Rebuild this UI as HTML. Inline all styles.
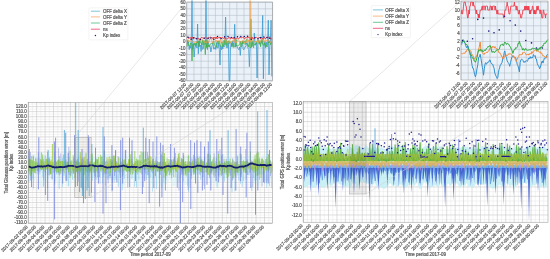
<!DOCTYPE html>
<html><head><meta charset="utf-8"><style>
html,body{margin:0;padding:0;background:#fff;width:550px;height:259px;overflow:hidden}
svg{display:block}
.t{font-family:"Liberation Sans",sans-serif;font-size:44.5px;fill:#404040;stroke:#666;stroke-width:2px}
.gt{filter:grayscale(1)}
</style></head><body>
<svg width="550" height="259" viewBox="0 0 550 259">
<rect width="550" height="259" fill="#fff"/>
<rect x="28.2" y="102.3" width="244.3" height="121" fill="#ffffff"/>
<path d="M32.42 102.3V223.3M40.86 102.3V223.3M49.3 102.3V223.3M57.74 102.3V223.3M66.18 102.3V223.3M74.62 102.3V223.3M83.06 102.3V223.3M91.5 102.3V223.3M99.94 102.3V223.3M108.38 102.3V223.3M116.82 102.3V223.3M125.26 102.3V223.3M133.7 102.3V223.3M142.14 102.3V223.3M150.58 102.3V223.3M159.02 102.3V223.3M167.46 102.3V223.3M175.9 102.3V223.3M184.34 102.3V223.3M192.78 102.3V223.3M201.22 102.3V223.3M209.66 102.3V223.3M218.1 102.3V223.3M226.54 102.3V223.3M234.98 102.3V223.3M243.42 102.3V223.3M251.86 102.3V223.3M260.3 102.3V223.3M268.74 102.3V223.3M28.2 104.07H272.5M28.2 109.12H272.5M28.2 114.17H272.5M28.2 119.22H272.5M28.2 124.27H272.5M28.2 129.32H272.5M28.2 134.38H272.5M28.2 139.43H272.5M28.2 144.47H272.5M28.2 149.52H272.5M28.2 154.57H272.5M28.2 159.62H272.5M28.2 164.68H272.5M28.2 169.72H272.5M28.2 174.77H272.5M28.2 179.82H272.5M28.2 184.88H272.5M28.2 189.93H272.5M28.2 194.97H272.5M28.2 200.02H272.5M28.2 205.07H272.5M28.2 210.12H272.5M28.2 215.18H272.5M28.2 220.22H272.5" stroke="#e6e6e6" stroke-width="0.5" fill="none"/>
<path d="M28.2 102.3V223.3M36.64 102.3V223.3M45.08 102.3V223.3M53.52 102.3V223.3M61.96 102.3V223.3M70.4 102.3V223.3M78.84 102.3V223.3M87.28 102.3V223.3M95.72 102.3V223.3M104.16 102.3V223.3M112.6 102.3V223.3M121.04 102.3V223.3M129.48 102.3V223.3M137.92 102.3V223.3M146.36 102.3V223.3M154.8 102.3V223.3M163.24 102.3V223.3M171.68 102.3V223.3M180.12 102.3V223.3M188.56 102.3V223.3M197 102.3V223.3M205.44 102.3V223.3M213.88 102.3V223.3M222.32 102.3V223.3M230.76 102.3V223.3M239.2 102.3V223.3M247.64 102.3V223.3M256.08 102.3V223.3M264.52 102.3V223.3M28.2 106.6H272.5M28.2 111.65H272.5M28.2 116.7H272.5M28.2 121.75H272.5M28.2 126.8H272.5M28.2 131.85H272.5M28.2 136.9H272.5M28.2 141.95H272.5M28.2 147H272.5M28.2 152.05H272.5M28.2 157.1H272.5M28.2 162.15H272.5M28.2 167.2H272.5M28.2 172.25H272.5M28.2 177.3H272.5M28.2 182.35H272.5M28.2 187.4H272.5M28.2 192.45H272.5M28.2 197.5H272.5M28.2 202.55H272.5M28.2 207.6H272.5M28.2 212.65H272.5M28.2 217.7H272.5M28.2 222.75H272.5" stroke="#c8c8c8" stroke-width="0.6" fill="none"/>
<rect x="303.2" y="101.6" width="244.8" height="120.6" fill="#ffffff"/>
<path d="M307.42 101.6V222.2M315.86 101.6V222.2M324.3 101.6V222.2M332.74 101.6V222.2M341.18 101.6V222.2M349.62 101.6V222.2M358.06 101.6V222.2M366.5 101.6V222.2M374.94 101.6V222.2M383.38 101.6V222.2M391.82 101.6V222.2M400.26 101.6V222.2M408.7 101.6V222.2M417.14 101.6V222.2M425.58 101.6V222.2M434.02 101.6V222.2M442.46 101.6V222.2M450.9 101.6V222.2M459.34 101.6V222.2M467.78 101.6V222.2M476.22 101.6V222.2M484.66 101.6V222.2M493.1 101.6V222.2M501.54 101.6V222.2M509.98 101.6V222.2M518.42 101.6V222.2M526.86 101.6V222.2M535.3 101.6V222.2M543.74 101.6V222.2M303.2 107.57H548M303.2 116.91H548M303.2 126.25H548M303.2 135.59H548M303.2 144.93H548M303.2 154.27H548M303.2 163.61H548M303.2 172.95H548M303.2 182.29H548M303.2 191.63H548M303.2 200.97H548M303.2 210.31H548M303.2 219.65H548" stroke="#e6e6e6" stroke-width="0.5" fill="none"/>
<path d="M303.2 101.6V222.2M311.64 101.6V222.2M320.08 101.6V222.2M328.52 101.6V222.2M336.96 101.6V222.2M345.4 101.6V222.2M353.84 101.6V222.2M362.28 101.6V222.2M370.72 101.6V222.2M379.16 101.6V222.2M387.6 101.6V222.2M396.04 101.6V222.2M404.48 101.6V222.2M412.92 101.6V222.2M421.36 101.6V222.2M429.8 101.6V222.2M438.24 101.6V222.2M446.68 101.6V222.2M455.12 101.6V222.2M463.56 101.6V222.2M472 101.6V222.2M480.44 101.6V222.2M488.88 101.6V222.2M497.32 101.6V222.2M505.76 101.6V222.2M514.2 101.6V222.2M522.64 101.6V222.2M531.08 101.6V222.2M539.52 101.6V222.2M303.2 102.9H548M303.2 112.24H548M303.2 121.58H548M303.2 130.92H548M303.2 140.26H548M303.2 149.6H548M303.2 158.94H548M303.2 168.28H548M303.2 177.62H548M303.2 186.96H548M303.2 196.3H548M303.2 205.64H548M303.2 214.98H548" stroke="#c8c8c8" stroke-width="0.6" fill="none"/>
<path d="M28.6 155.6 L31.9 155.7 L34.6 153.5 L37.4 158.3 L39.5 152.7 L42.4 152.3 L45.8 157.2 L47.6 152.1 L49.2 153.5 L50.8 155.7 L54 156.2 L56.5 157.3 L58.5 160 L61.7 157.7 L63.7 154.3 L66.7 155.2 L69 159.7 L70.5 153.7 L72.9 159.8 L74.6 157 L76.6 152.7 L80 158.1 L82 152.8 L85.1 153.4 L87.5 153.5 L89.3 157.1 L91.6 153.7 L95.1 158.4 L98.3 153.7 L101.5 157.1 L105 153.7 L108.1 154.6 L109.7 152.7 L111.7 156.8 L114.1 159.7 L116.8 158.9 L118.6 159.3 L120.6 153.5 L123.9 153.6 L127.2 156.8 L128.9 152.3 L130.9 157.6 L134 156.8 L135.9 157.8 L137.9 156.5 L140.6 154.2 L142.5 152.1 L144.9 152.5 L147.1 156.6 L149.3 159.1 L152.2 157.5 L153.9 152.3 L157.3 157.6 L158.8 157.1 L161.8 154.6 L163.4 156.4 L166.7 157.9 L169.8 159.3 L172.7 159.2 L175 158.3 L177.6 157 L180.3 156.9 L183.1 159.9 L186 155.1 L188.7 155.5 L190.4 158 L193.1 155.8 L196 156 L199.3 154 L201.4 157.4 L203.3 159.2 L205.6 159.1 L208.5 153.6 L211.6 159.3 L213.9 156.7 L215.6 156 L218.8 157.7 L220.9 153.4 L222.9 153.7 L225.7 156 L228.9 159.9 L230.5 152.3 L232.1 157.7 L234.2 158.3 L236 155.6 L239.1 153.9 L240.7 157 L243.5 157.2 L246.9 157.5 L249.4 153.4 L251.8 157.7 L253.9 154.8 L256.4 156.9 L258.7 158.3 L260.4 159.5 L262.1 155.6 L265.4 155 L268.7 158.4 L271.1 157.2 L271.1 176.9 L268.7 187.2 L265.4 182 L262.1 182.8 L260.4 184.1 L258.7 186.7 L256.4 184.6 L253.9 183.8 L251.8 176.5 L249.4 174.2 L246.9 176.8 L243.5 185.3 L240.7 180.3 L239.1 176 L236 174.3 L234.2 174.3 L232.1 182 L230.5 186.2 L228.9 180.3 L225.7 178.4 L222.9 179.8 L220.9 180.3 L218.8 187.3 L215.6 185.7 L213.9 178.4 L211.6 186.3 L208.5 180 L205.6 178.6 L203.3 183.2 L201.4 176.8 L199.3 174.2 L196 182.6 L193.1 177.2 L190.4 174.4 L188.7 185.7 L186 184.3 L183.1 186.3 L180.3 175.1 L177.6 179.4 L175 186.1 L172.7 186.2 L169.8 178.9 L166.7 183.9 L163.4 184.3 L161.8 188 L158.8 180.8 L157.3 187.5 L153.9 174.3 L152.2 182.2 L149.3 187.7 L147.1 175.8 L144.9 176.5 L142.5 177.8 L140.6 186.8 L137.9 185.9 L135.9 175 L134 178.1 L130.9 177.6 L128.9 187.5 L127.2 179.9 L123.9 187.3 L120.6 184.4 L118.6 185.4 L116.8 176.6 L114.1 180.8 L111.7 179.2 L109.7 182.2 L108.1 178.1 L105 177.6 L101.5 175.4 L98.3 179.5 L95.1 178.3 L91.6 177.8 L89.3 175.6 L87.5 184.2 L85.1 181.8 L82 174.8 L80 175.7 L76.6 178.7 L74.6 184.9 L72.9 179.6 L70.5 186.7 L69 185.9 L66.7 185.9 L63.7 175 L61.7 178.4 L58.5 187.9 L56.5 180.4 L54 183 L50.8 180.2 L49.2 177.4 L47.6 181.4 L45.8 182.6 L42.4 187.8 L39.5 185.3 L37.4 175.3 L34.6 181.2 L31.9 181.1 L28.6 181.8 Z" fill="#c8f0f6" fill-opacity="0.4"/>
<path d="M28.6 164.6V181.7M29.8 165.5V174.3M31.1 165.5V170.5M32.9 165.3V178.6M34.5 166.4V170.1M36 162.9V169.8M37.8 158.2V174.2M39.8 157.9V174.4M41.1 164.8V170.9M42.8 157.6V176.9M43.8 166.1V180.1M45.7 165.8V175.5M46.8 163.1V169.9M48.1 163.9V175M49.4 158.1V171.4M50.5 165.2V173.4M52 165V178.9M53.5 164.7V173.2M54.7 165.6V181.4M56.5 165.1V174.4M58 162.7V174.6M59.2 160.8V189M60.7 164.4V171.3M62.4 157.9V187M64 166.1V176M65.9 163.8V180.1M67.1 163.2V180.8M68.6 165.6V186.4M69.8 165.5V175.2M70.9 163.2V176.3M72.6 164.5V179.7M73.8 166.4V173.6M75 164.8V177.6M76.4 164.3V172.2M77.4 162.8V170.4M78.4 156.7V173M79.4 162.4V175.9M81.1 163.2V186.9M82.2 164.5V189.1M83.5 159.7V175.7M85.1 166.1V173.3M87 162.7V179.8M88.9 166.5V176.1M90.5 164.1V170.6M92.4 157.4V181M94.3 163.8V176M96 157.8V180.3M97.4 165.3V169.8M98.6 164.3V173.3M100 165.7V183.6M101.4 163.5V172.2M102.6 164.5V183.4M103.8 165.3V177M105.3 166.3V185.6M107.3 165.1V179.6M108.6 166.1V178.2M110.4 165.1V176.1M111.8 159.6V191.6M112.9 165.8V180.2M114.2 158.3V182.2M115.8 163.1V180M117.1 166.1V182.8M118.4 166.4V186.9M119.9 164.3V175.4M120.9 160.7V178M122.3 166V190.1M124.3 164.8V178.9M125.4 162.8V169.9M126.8 166.4V171.5M127.9 166.5V178.4M129.5 164.7V169.8M130.5 165.6V173.7M132 165.3V179.3M133.4 164.4V173.3M134.6 162.9V186.7M136.5 165.4V187.6M137.6 162.8V170.7M138.9 164.4V179.7M140.2 166.6V172.6M141.8 159.6V174.9M143.8 165.5V170.5M144.9 163.3V172.4M146.4 164.9V180M147.8 165.4V175.1M148.9 165.7V178.4M150.8 163.9V177.4M152.6 165.9V191.6M153.5 164.6V178.3M155.4 162.9V170.3M156.5 162.7V188.9M158.2 162.7V171M159.2 163.1V178.2M160.7 162.8V175M162 166.5V188.4M163.7 163.8V182.8M165.3 163.9V173.2M167.2 165.4V176.4M169 165.3V175.3M169.9 163.1V174.8M171.1 165.8V172.3M172.1 166.4V175.4M173.7 164.9V172.2M175.7 166.1V177.1M177.2 164V187.1M179.2 164.5V182.4M180.7 165.5V177.6M182.4 164V174.6M183.4 164.7V181.5M184.6 163.8V171M186.2 163.6V176.7M187.7 166.4V186.3M188.6 166.3V192M190.5 164.7V173.1M191.5 165.4V179.1M192.9 165V172.4M194.5 164.8V174.4M195.8 164.1V172.9M197.2 164.7V174.6M199.1 162.7V174M200.8 165.4V180M202.4 164.9V172.1M203.9 162.7V185.6M205.7 165.6V172M207.7 165.8V170.3M209.5 163.3V176.1M211.2 163.6V172.4M212.7 164.4V171.1M214 163.7V172.6M215.5 164.6V176.5M217.1 165.4V187.9M218.5 164.5V175.9M219.8 160.8V177.2M221.6 165.1V173.5M222.5 165.1V171.2M224.4 162.9V181.6M226.2 163.6V175M227.1 163.3V171.9M228.8 165.3V172M230 164.8V175.9M232 165.7V192.2M233.3 164.8V178.7M234.9 165.9V191.2M236.8 165.7V172.1M237.7 157.6V175.6M238.7 166.4V180.4M240.6 162.5V183.9M242.2 163.8V187.3M243.5 165.2V180.8M244.7 164.2V170.8M246.2 164.6V179.4M247.7 164V175.1M249.1 164.6V175.4M250.8 163V169.8M251.8 163.4V191M253.6 163.9V177.8M254.9 164.4V180.5M256.7 166.3V180.3M258.2 165.4V175.3M259.2 161.7V173.9M260.2 164.4V174.4M261.8 164.3V174.7M263.4 165.7V175.6M264.9 161.3V181.5M266.7 165.3V188.2M267.9 163.3V181M269.6 166V186.3M271.6 165.3V188.2" stroke="#72bce8" stroke-width="0.6" stroke-opacity="0.85" fill="none"/>
<path d="M28.6 151.4V171.7M30.4 152.2V180.5M33.3 155.5V188.4M35.8 157.7V173.6M38.3 152.2V171.7M39.8 164.4V171.6M41.5 160.5V170M43.7 159.2V186.7M45.2 155.5V172.3M47.6 159.4V188.2M49.2 157.3V175.6M50.7 164.3V173.4M52.2 163.8V179.4M54.6 151.7V184.6M56.8 161.9V168.9M58.6 147.8V173.3M60.8 153.4V174.3M63.4 154.5V170.9M66 159.7V170.1M68.8 146.8V174.5M70.7 160.4V175.8M73.6 157.6V173.8M75.2 161.8V169.7M76.7 160.2V171.2M78.4 161.5V181.7M80.9 163.3V170.2M82.9 157.6V190.5M85.3 164.1V170.5M87.8 158.6V172M89.9 162.4V172.3M91.5 159.1V170.2M93.2 164.4V170.1M95.5 159.9V177.1M97.6 158.8V173M99.6 163.8V177M101.3 164.2V169.6M104 150.2V174.4M106.3 160.5V174M108.1 159.2V183.3M110 160.4V178.4M112.3 159.8V183M114.5 159V176M116.6 161.2V182.2M118.1 156V172M120.7 161.5V171.5M122.5 164.5V178.5M125.3 150.2V170.3M127.7 164.2V187.5M129.2 164.3V172.4M131.9 151V172.4M134.8 163.1V169.2M137.7 160.3V174.4M140.4 164.3V169.7M143.3 151.5V187M145.9 162.2V174.2M148 155.7V175.2M150.5 162V170M152.8 163.7V173.4M155.5 160.3V176.4M157.9 162V171.5M159.9 162.1V175M162.6 161.9V170.6M164.2 159V171M165.8 163.6V180.2M168.4 163V171.4M170.1 162.6V170.8M171.6 160.1V178.3M173.1 159.1V168.7M175.4 153V171.4M177.4 158.1V187.9M179 156.6V190.5M181.3 158.3V174.7M183.4 159.2V169.9M185.5 161V174.1M188.2 156V190M190.1 161.5V187.5M192 158.7V168.6M193.5 154.7V174.8M196 161.7V170.2M197.8 156.1V170.2M200.1 164.6V175.3M201.8 158.8V170M204.5 156.3V189.2M207.4 153.7V170.5M209.9 159.2V172.3M211.9 161.4V174.3M214.2 153.3V177.7M216.3 158V168.8M218.3 151.1V175.3M220 149.2V170.4M222.6 154.1V174.8M224.5 161.4V172.4M226.3 158.9V173.4M229.2 163.4V170.2M230.8 162.5V175.3M232.6 158.3V180.6M234.4 161.7V173.4M235.9 162.9V177.5M237.4 161.7V171.8M239.3 164.5V171.3M241.3 154.3V177M243.5 164.5V171.5M245.7 149V173.1M247.7 159.3V174.9M250.5 159.5V172.3M252.8 160.9V187.1M255.2 160.4V169M257.2 151.4V169.8M259.4 159.5V179.7M262 158.4V186.5M264.5 164.2V183.3M266.5 163.9V182.8M268.3 153.9V171.9M270.4 160.4V176.1" stroke="#7484dc" stroke-width="0.6" stroke-opacity="0.85" fill="none"/>
<path d="M28.6 159.8V171.9M29.6 158.7V170.8M30.3 159.2V175.8M31.2 160.1V167.8M31.7 155.9V174.3M32.5 160.4V171.7M33.3 156.8V170.8M34.2 160.9V172.7M34.9 162.6V173M35.9 158.8V171M36.8 161.8V167.8M37.6 162.5V171M38.5 164.7V170.1M39.5 163.4V168.4M40.5 159.2V169.5M41.4 152.4V167.7M42 160.6V169.7M42.6 154.5V169.1M43.4 162.3V170.1M44 163.8V171.4M45 161.1V169M46 159.2V169.5M46.6 158.6V168.4M47.6 151.9V170.1M48.2 162.5V167.7M49.1 159.2V168.3M50 161.8V174.1M50.5 161.5V174.5M51.2 159.6V173.9M52.2 162.1V169.6M53 162.3V167.7M54 163.9V172M54.7 164V167.7M55.6 160.5V171.4M56.5 161.8V172.4M57.6 160.3V172.5M58.6 159.4V172.2M59.3 155.9V175.4M60.2 161V173.3M60.9 160.8V170.8M62 160.9V172.2M62.5 161.1V169.1M63.1 163.8V168.2M64.1 161.5V173.4M65.2 161V168.1M66.2 164.8V168.6M66.8 161.9V168M67.5 161.7V169.8M68.4 161.5V171.9M68.9 157.3V172.1M70 150.7V178.1M70.7 162V169.1M71.8 160.4V173.5M72.6 164.4V170.3M73.2 155.1V171.6M73.8 161.3V172.3M74.9 158.9V178.1M75.9 161V169.2M76.7 161.3V172.1M77.4 158.7V173.9M78 162.3V168.2M78.6 164.5V170.9M79.3 162V169.7M80.3 152.1V171.3M80.9 162.3V172.5M81.8 158.7V170.9M82.9 162.3V168.2M83.4 164.6V170.5M84.1 156.9V175.1M85.1 160.6V168.5M86 152.9V171M87.1 159.2V172.4M87.7 162.5V173M88.5 162.7V170M89.1 161.4V170.8M89.9 164V172.9M90.4 161.7V171M91.3 154.2V174M92.3 153.5V168.5M93.1 163.5V172.2M94.1 162.5V173.4M94.9 161.6V171.8M95.6 159.7V172.7M96.6 159.3V171.4M97.6 159.9V177.3M98.7 157V170.1M99.8 164.7V168.3M100.7 154.9V171.1M101.2 156.9V169M102.1 156.4V168.6M102.8 161.5V170.5M103.8 159.2V170.9M104.6 151V172.4M105.4 161.7V173.5M106.1 165V169.8M107 157.3V169.5M108 161.7V173.6M108.8 164.1V167.6M109.8 156.4V176M110.6 158.9V172.7M111.6 162.4V168.1M112.2 161.6V168.5M112.9 156.2V170.4M113.6 155.4V170.4M114.6 155.6V171.9M115.5 150.7V172.4M116.3 163.2V170.8M117 162.6V169.1M118 163V171M118.7 157.5V168.2M119.6 163.9V172.6M120.2 157.6V178.2M120.9 161.8V172.2M121.6 162.9V167.7M122.6 158.7V171.6M123.1 162.9V175.5M123.9 160V171.3M124.8 159.2V169.7M125.4 160.5V170.7M126.4 163.8V171.4M127 163.5V171.8M128 162.8V168.3M128.6 159.2V171M129.3 159.2V172.5M129.8 159.7V173M130.7 154.2V174.5M131.8 159V169.4M132.7 162.6V174.6M133.5 164.2V171M134.3 163.4V169.6M134.8 150.9V171.2M135.6 161V172.1M136.4 158.6V172.7M137.1 161.4V170.8M137.9 159.2V167.9M138.9 160.3V172.1M139.8 155V170.6M140.3 160.6V169M141.1 151.3V173.4M142.1 162.4V168.9M142.9 152.3V168.3M144 165.1V169.4M144.5 159.3V170M145.4 151.4V169.4M146.4 158.7V168.8M147.5 151.9V169.7M148.1 159.4V168.8M148.7 157.8V172M149.8 159.4V168.4M150.8 156.8V169.4M151.4 163.9V171.6M152.2 160.8V171.1M152.8 159.1V169.3M153.4 158.7V170.8M153.9 161.2V169.1M154.5 163.2V169.1M155.3 163.9V175.9M156.2 162.6V170.6M157.1 160.9V171.5M157.9 161.8V171.7M159 164V168.6M159.6 162.2V172.3M160.2 161.9V171.1M160.8 161.2V171M161.4 154.6V170.2M162 151.3V171M163 156.1V167.9M163.9 161.7V177.7M164.5 153.1V172.6M165 162.4V168.9M165.5 161.9V175.9M166.5 164.8V175.6M167.2 158.3V173.6M168.1 163.6V170.9M168.9 159V169.6M169.8 164.8V175.3M170.7 159.5V172.9M171.4 159.6V172.3M172.1 163.9V168.6M172.7 162.1V170.3M173.7 159.5V177.1M174.4 157.1V169.2M175.4 160.5V169.8M176.5 162.8V171.9M177 163V168.1M177.7 160.1V167.9M178.3 153.8V167.8M179.1 152.9V169.2M180 164.1V169.3M180.7 162.6V169M181.4 158.4V171.4M182.4 158.8V171.6M183.1 160.6V173.3M183.7 155.2V175.5M184.4 161.9V168.6M185.2 164V175.3M185.9 164.1V171.8M186.9 165V175.6M187.4 161.9V170.4M188 164.9V173M188.7 154.8V171.3M189.4 161.4V172.2M190.3 162.4V169.3M191.3 162.6V176.1M192 162.8V168.5M192.6 160.7V167.6M193.4 163.5V171.5M194.2 161.5V173.4M195 159.3V171.9M195.9 158.8V168.6M196.7 161.4V169.3M197.5 163.6V169.5M198.3 158.1V168.2M198.9 162.2V170.5M199.9 156.6V170.6M200.6 160.4V171.9M201.3 160.2V172.6M202.1 160.5V172.6M202.6 162.6V169M203.1 161.3V177M203.9 161V173.2M204.4 158.3V169.3M205.5 164.3V167.8M206.3 162.7V172.4M207 162.6V172.2M207.7 160.6V174.5M208.3 159V175.2M208.8 153.6V169.2M209.6 162.7V178.1M210.3 154.7V173.6M211.3 162V172.4M211.8 161.5V171.3M212.9 159.5V170.3M213.8 157.2V175.4M214.8 163.1V167.7M215.8 165V172.5M216.8 162.5V172.6M217.9 164.4V170M218.5 154V169M219.3 160.8V169.8M220 163.3V175.3M220.9 163.7V170.9M221.5 155.8V176.1M222.3 163V173.3M223.3 163V168.3M224 158.8V170M224.7 163.3V173.3M225.3 162.8V168.5M226 160.9V171.3M227 161V177.8M227.9 162.2V170.1M228.6 161.2V176.7M229.3 161.2V173.2M230.1 158.6V169.5M231.2 162.5V168.4M232 163.6V171.5M233 159.9V178M233.9 163.5V170.3M234.9 163.8V176.4M235.9 161.9V172.4M236.9 161.5V172.4M237.6 155.8V172.8M238.2 163.9V172.7M239.2 164.6V168.8M240.2 153.3V175.3M240.9 161V171.2M241.5 164.3V174.2M242.6 161.1V168.8M243.5 160.3V169.5M244.1 161V172.5M244.9 161.8V169.7M245.5 161.3V172.8M246.5 160.7V173.2M247.5 161.2V168M248.1 162.2V169.4M249 163.5V168.4M249.7 162.4V172.5M250.5 151.4V168.1M251.3 160.4V169.7M252.3 164.9V170.4M253.1 163V171.2M254.2 158.6V172.6M255.1 154.9V170M255.8 158.7V175.6M256.7 153.4V171.3M257.4 159.8V175.9M257.9 159.5V175.4M258.7 152.3V169.4M259.3 157.9V170.7M260.2 163.5V167.9M261 161.5V177.9M261.6 158.8V170M262.6 158.8V167.7M263.6 160.3V168.5M264.1 164.4V173.4M265.1 164.8V168.1M265.7 159.1V170.5M266.7 158.9V170.6M267.5 163.2V169.1M268.2 162V170.2M268.7 154.4V170.9M269.4 164.5V169.5M270 160.2V167.7M271.1 165.1V173.4M272 162.7V171.3" stroke="#7cc232" stroke-width="0.65" stroke-opacity="1" fill="none"/>
<path d="M28.6 164.5V169M31.4 162.6V170.6M33.5 159.3V169.8M36.7 165.4V168.3M39.8 161.1V167.9M43.2 160.7V169M46.2 161.8V168.4M48.7 162.3V169.5M50.5 160.7V168.3M54 160.8V170.1M57.2 161.5V167.8M60.1 161.4V167.7M61.7 161.9V170.3M65.2 163.4V169.6M68.1 163.8V167.8M71.4 162V169M73.3 163.3V169.2M75 165.6V168.3M77 164.5V169.7M80.3 155.4V169.4M83.3 162.5V168.6M84.9 156.5V170.3M87.8 162.6V170.5M90.9 160.6V167.6M93.6 162.4V169.4M95.8 165.6V169.5M99.3 162.6V169.9M102.8 163.3V168.8M104.3 164V170.6M106.6 164.2V167.9M108.7 157V168.9M111.8 163.9V168.2M114.4 158.8V170.3M116.5 163.2V168.4M119 165.3V168.5M122.2 161.7V169.4M125.4 159.8V169.8M128.6 160.7V168.1M131.2 162.5V168M134.6 163V170.5M136.9 165.3V168.4M138.9 164.1V168.6M141.7 161.1V170.3M145 164.3V167.9M147.7 154.9V168M150.6 155.8V167.8M153.9 161.5V168.9M155.5 157.4V170.4M158.3 165V169.7M160.5 161.7V168.8M163 164.2V170.3M165.2 161.7V168.2M166.7 160.8V170.5M169.4 160.3V169.4M172.1 160.8V168.3M174.1 157.6V168.9M176.3 160.8V170.1M178.9 156.9V170.2M180.5 162.1V169.7M183.7 162V168.1M187.1 161V169.2M188.7 163.8V167.8M190.8 165.4V168.7M192.4 163.8V168.9M195.2 157.4V167.8M197.6 161.6V170.1M199.5 163.6V167.6M202.2 162.9V170.4M205 157.7V168.4M207.7 165.2V168.8M209.3 165V170.1M212.5 163.7V168.1M215.5 160.9V167.6M217.2 165.2V169.4M219.7 165V168M221.4 162.6V170M224.6 164.9V168M227.1 165.5V169.6M230.2 163.2V170.1M233.4 161.6V168.6M235 161.8V170.6M237 163.4V170.5M240.1 161.2V168.4M242.8 165.3V170.5M245.3 164.9V167.8M247.7 165.2V170.1M250.7 161.3V168.9M252.3 161.7V168.8M254.1 159.9V167.8M256.5 164.9V169.4M259.7 158.9V170.1M262.4 162.4V167.7M264.3 163.4V170.4M266.9 157.2V168.8M270.3 164.6V167.6M271.9 161.6V168.1" stroke="#c8cc3a" stroke-width="0.6" stroke-opacity="0.9" fill="none"/>
<path d="M29.3 166.6V149M38.8 166.6V137.2M54.4 166.6V141.5M55.6 166.6V137.7M65.7 166.6V132.7M68.2 166.6V152.8M74.5 166.6V135.2M82 166.6V149M88.3 166.6V135.2M88.8 166.6V137.7M95.5 166.6V147.7M104.3 166.6V136.4M111.9 166.6V145.2M115.6 166.6V150M120.7 166.6V140.2M122.7 166.6V137.7M125.7 166.6V150M129.5 166.6V137.7M132 166.6V140.2M145.8 166.6V137.7M149.3 166.6V139M153 166.6V141.5M156.8 166.6V136.4M160.6 166.6V142.7M163 166.6V145.2M170.6 166.6V144M174.4 166.6V147.7M183.2 166.6V152.8M190.7 166.6V140.2M194.5 166.6V142.7M197 166.6V140.2M200.8 166.6V141.5M204.5 166.6V146.5M208.3 166.6V141.5M216.8 166.6V139M221.8 166.6V137.7M236.1 166.6V128.9M240.7 166.6V146.5M246.9 166.6V132.7M250.2 166.6V141.5M269.5 166.6V150M31.5 166.6V187M38.4 166.6V189.3M45.4 166.6V195M47.7 166.6V200.9M54.6 166.6V219.4M62.7 166.6V183.5M66.2 166.6V181.2M83.5 166.6V203.2M91.5 166.6V192.8M94.9 166.6V202M98.4 166.6V183.5M103 166.6V213.6M106 166.6V203.2M112.3 166.6V190.5M120.4 166.6V210.1M122.7 166.6V183.5M129.7 166.6V187M135.5 166.6V181.2M142.4 166.6V194M144.7 166.6V181.2M149.2 166.6V203.2M153.8 166.6V188.1M159.6 166.6V206.7M161.9 166.6V197.4M180.4 166.6V223M182.7 166.6V202M190.8 166.6V209M195.5 166.6V183.5M197.8 166.6V192.8M202.4 166.6V190.5M207 166.6V184.7M210.8 166.6V190.5M216.1 166.6V181.2M218.4 166.6V182.4M223 166.6V195M227.7 166.6V213.6M231.1 166.6V188.1M235.8 166.6V190.5M240.4 166.6V181.2M246.2 166.6V197.4M250.8 166.6V188.1M255.5 166.6V214.8M257.8 166.6V190.5M263.5 166.6V182.4M268.2 166.6V183.5" stroke="#6f7fdc" stroke-width="0.8" fill="none"/>
<path d="M48.1 166.6V150M64.4 166.6V130M75.7 166.6V102.5M78.2 166.6V130M91.8 166.6V144M103 166.6V127.1M143.3 166.6V127.6M210 166.6V130.2M228.1 166.6V130.2M257.7 166.6V111.3M267 166.6V110M75.5 166.6V187M81.2 166.6V188M87 166.6V190.5M89.2 166.6V196.2M165.4 166.6V190.5M77.5 166.6V186M79.6 166.6V192M82.4 166.6V196M85.3 166.6V199M88.1 166.6V188" stroke="#4fa6d8" stroke-width="0.8" fill="none"/>
<path d="M52.4 166.6V144" stroke="#9acd32" stroke-width="0.8" fill="none"/>
<polyline points="28.6,166.7 29.6,166.8 30.6,167.3 31.6,167.7 32.6,167.7 33.6,167.4 34.6,167.4 35.6,166.9 36.6,166.8 37.6,166.2 38.6,166.4 39.6,166.3 40.6,166.5 41.6,166.2 42.6,166.7 43.6,166.5 44.6,166.2 45.6,166.3 46.6,165.9 47.6,165.6 48.6,165.5 49.6,166 50.6,166.1 51.6,166.3 52.6,167.1 53.6,167 54.6,167.6 55.6,167.3 56.6,167.2 57.6,167.3 58.6,167.1 59.6,167 60.6,167 61.6,166.9 62.6,167.2 63.6,167.1 64.6,167 65.6,166.7 66.6,166.5 67.6,166.3 68.6,165.7 69.6,165.8 70.6,165.8 71.6,165.8 72.6,165.8 73.6,166 74.6,166.5 75.6,166.7 76.6,167.1 77.6,166.9 78.6,166.6 79.6,166.4 80.6,166.1 81.6,166.1 82.6,166.1 83.6,166.2 84.6,166.1 85.6,166.1 86.6,166.2 87.6,166.3 88.6,166.1 89.6,165.4 90.6,165.4 91.6,165.3 92.6,165.4 93.6,165.5 94.6,166.2 95.6,166 96.6,166.2 97.6,166.3 98.6,166.1 99.6,166 100.6,165.8 101.6,166.1 102.6,165.9 103.6,166.5 104.6,166.8 105.6,167.1 106.6,167.4 107.6,167.6 108.6,167.4 109.6,167.4 110.6,167.3 111.6,166.7 112.6,166.8 113.6,166.6 114.6,166.8 115.6,166.7 116.6,166.7 117.6,166.9 118.6,166.5 119.6,166.4 120.6,166.1 121.6,166 122.6,165.8 123.6,165.4 124.6,166 125.6,166.3 126.6,166.3 127.6,167 128.6,167 129.6,167 130.6,166.9 131.6,166.7 132.6,167 133.6,166.9 134.6,166.9 135.6,167.1 136.6,167 137.6,167.4 138.6,167.4 139.6,167.4 140.6,167.1 141.6,166.9 142.6,166.5 143.6,165.8 144.6,165.9 145.6,165.8 146.6,165.7 147.6,166.2 148.6,166.2 149.6,166.2 150.6,166.5 151.6,166.4 152.6,166.3 153.6,166.6 154.6,166.1 155.6,166.5 156.6,166.3 157.6,166.8 158.6,167.4 159.6,167.2 160.6,167.8 161.6,167.3 162.6,167.7 163.6,167.4 164.6,166.8 165.6,166.6 166.6,166.3 167.6,166.1 168.6,166.2 169.6,166.4 170.6,166.7 171.6,166.3 172.6,166.4 173.6,166.2 174.6,166 175.6,166 176.6,165.8 177.6,165.7 178.6,166.4 179.6,166.5 180.6,166.7 181.6,167.2 182.6,167.5 183.6,167.1 184.6,167.4 185.6,167.1 186.6,166.8 187.6,166.6 188.6,166.6 189.6,166.8 190.6,166.9 191.6,167.1 192.6,166.9 193.6,167 194.6,166.7 195.6,166.5 196.6,166.2 197.6,165.6 198.6,165.9 199.6,165.7 200.6,165.8 201.6,166 202.6,166.6 203.6,166.6 204.6,166.9 205.6,166.6 206.6,166.9 207.6,166.5 208.6,166.8 209.6,166.6 210.6,166.8 211.6,167.2 212.6,167.4 213.6,167.5 214.6,167.6 215.6,167.6 216.6,167.2 217.6,166.5 218.6,166.7 219.6,165.8 220.6,165.7 221.6,166.2 222.6,166 223.6,166 224.6,166.2 225.6,166.4 226.6,166.5 227.6,165.9 228.6,165.8 229.6,165.7 230.6,165.8 231.6,166.1 232.6,166.5 233.6,167.2 234.6,167.3 235.6,167.7 236.6,167.6 237.6,167.7 238.6,167.3 239.6,166.8 240.6,166.7 241.6,166.6 242.6,166.4 243.6,166.8 244.6,166.3 245.6,165.9 246.6,165.7 247.6,165.4 248.6,164.5 249.6,164.1 250.6,163.5 251.6,163.5 252.6,163.5 253.6,163.9 254.6,164.3 255.6,164.4 256.6,164.9 257.6,165 258.6,165.2 259.6,165.3 260.6,164.8 261.6,165.2 262.6,164.9 263.6,165 264.6,165 265.6,165.2 266.6,165.7 267.6,165.4 268.6,165.3 269.6,165 270.6,165 271.6,164.4" stroke="#14206a" stroke-width="1.8" fill="none"/>
<path d="M303.6 146.3 L306 145.7 L309.5 148.1 L312.1 148.5 L315.1 146.2 L316.8 145.6 L318.7 147.8 L322.1 147.2 L325.5 147.3 L328 147 L330.8 149.6 L332.9 147.6 L335.2 148.9 L337.7 147.6 L340.6 146.3 L342.6 148 L345.5 147.1 L348.1 145.5 L350.1 146.5 L352.6 148.7 L355.3 145.6 L357.1 145.1 L360.5 146.8 L363.5 148.3 L366.5 145.3 L369.6 148.8 L372.1 149 L374.6 145.9 L376.5 147.6 L378.9 148.2 L381.7 147.1 L384.3 149.4 L387.4 148.9 L390 146.2 L392.9 146.2 L395.5 148 L397.4 146.5 L400.7 146.6 L403.1 147.1 L406.1 148.8 L409.1 149.9 L411.5 148.3 L414.6 147.1 L417.2 146.8 L419.2 147.4 L421 149.5 L424.1 146.4 L427.3 145.3 L430.7 148.4 L433.9 145.9 L435.6 146.9 L438.7 146.4 L440.5 146.3 L443.1 147.9 L445.5 149.7 L448.1 149.4 L450.2 147.8 L453.6 148.4 L457 147.3 L460 148.1 L462.6 146.3 L465.1 146.8 L466.9 146.3 L468.4 147.6 L470.7 149.5 L473.5 146.4 L475.7 149.2 L479.1 148.4 L482.1 145.8 L484.4 146.7 L486.2 147 L489.3 146.8 L491.6 149.9 L494.5 149.2 L497.9 147.1 L499.5 146.8 L502.3 145 L503.9 147.1 L507.1 148.2 L509.9 146.2 L512.3 149.8 L514.3 146.6 L516.5 146.2 L519.4 149.7 L521.5 148.6 L524.4 148.4 L526 145.9 L527.9 146.4 L529.4 147.6 L531.2 145.5 L532.9 145.7 L535 148.9 L537.5 146.9 L540.7 146.9 L542.4 147.2 L544.2 145.4 L547.6 150 L547.6 185.8 L544.2 188.5 L542.4 185.8 L540.7 187.8 L537.5 182.2 L535 185.5 L532.9 185.4 L531.2 187.1 L529.4 187.3 L527.9 182.8 L526 184.1 L524.4 182.6 L521.5 185.5 L519.4 182.6 L516.5 185.7 L514.3 188.7 L512.3 185.1 L509.9 186.3 L507.1 183 L503.9 185.4 L502.3 187.3 L499.5 184.3 L497.9 186.2 L494.5 188.4 L491.6 188.2 L489.3 187 L486.2 182.7 L484.4 184.5 L482.1 184.7 L479.1 183.2 L475.7 183.7 L473.5 188.3 L470.7 186.3 L468.4 187.2 L466.9 182.8 L465.1 186.1 L462.6 185.3 L460 188 L457 183.4 L453.6 182.3 L450.2 186.2 L448.1 183.3 L445.5 187.1 L443.1 187 L440.5 182.4 L438.7 186.7 L435.6 185.5 L433.9 185.5 L430.7 187.8 L427.3 184.1 L424.1 182.1 L421 188.8 L419.2 188.7 L417.2 182.1 L414.6 185.9 L411.5 184.2 L409.1 185.1 L406.1 187.7 L403.1 186.4 L400.7 184.2 L397.4 186.9 L395.5 185 L392.9 186.3 L390 182.7 L387.4 186.8 L384.3 188.9 L381.7 187.9 L378.9 185.9 L376.5 186.2 L374.6 182.5 L372.1 186.2 L369.6 183.6 L366.5 183.6 L363.5 182.3 L360.5 182.1 L357.1 188.4 L355.3 183.6 L352.6 183.1 L350.1 188.6 L348.1 185.4 L345.5 187.5 L342.6 185 L340.6 184.8 L337.7 183 L335.2 182 L332.9 184.5 L330.8 186.8 L328 182.9 L325.5 187.4 L322.1 187.7 L318.7 184 L316.8 185.6 L315.1 187.5 L312.1 187.9 L309.5 185.1 L306 186.8 L303.6 187.4 Z" fill="#c2eef6" fill-opacity="0.85"/>
<polygon points="303.6,179 305.1,166 306.8,176.6 308.5,165.6 309.9,171.7 311.7,166.9 313,181.7 314.6,166.4 316,170 317.2,165.6 319.2,183.2 320.8,168.3 322.3,180.2 323.5,166.8 325.2,176.1 326.9,166.5 328.6,173.1 330.1,166.8 331.7,170.8 333,167.6 334.2,177.1 336.2,167.3 338,181.6 340,166.7 341.4,181.3 342.6,166.9 343.9,178.4 345.7,168.1 347.2,180.4 348.4,167.5 350.3,179.2 351.9,167 353.3,172.7 354.6,167.9 356.2,170.6 357.8,168 359.5,172.7 361.5,166 363,176.9 364.3,166.3 365.5,172.5 366.7,167.4 368.4,173.8 370.3,166.8 371.8,183.9 373.5,166.9 375.3,181.1 376.7,165.7 378.4,181.2 380.1,165.9 381.9,172.6 383.7,167.4 385.3,171.1 386.8,167.7 388,170.6 389.4,168.1 391.1,173.4 392.3,168 394.1,180.5 395.4,167.8 396.5,172.6 397.9,168.4 399.1,172.4 400.8,167.8 402.2,171.1 404,168.4 405.9,178.5 407.1,167.7 408.8,182.5 410.6,167 412.6,176.9 414.1,167.4 415.9,178.8 417.8,166.3 419.7,183.2 421.1,165.6 422.8,179.3 424.8,167.2 426.5,181.4 427.8,167.5 429.2,173.2 430.6,166.6 432.4,178.3 433.7,165.7 435.6,181.3 437.4,167.9 438.6,174.2 440.1,166.4 441.9,173.1 443,166.9 444.2,170.4 445.8,167.3 447.4,171.1 449,167.1 450.4,173.3 451.6,166.9 453.1,178.8 454.8,166.3 456.4,173.9 458.2,166.1 459.8,181 461.6,167.1 463.6,184.8 465.4,166.6 466.7,179.4 467.9,166 469.1,179.8 470.6,168.3 472.4,178 473.8,166.5 474.9,171.7 476.8,166.4 477.9,184.7 479.4,167.8 480.9,184.5 482.1,166.9 483.7,170.4 485.7,166.5 487.4,171.2 488.5,165.8 490.4,184.1 492.3,167.1 493.5,181.7 495,167.8 496.7,178.5 497.9,165.9 499.1,176.5 500.5,168.4 501.6,181.4 502.8,165.8 504.8,173.3 506.4,167.3 507.9,175.2 509.1,167.6 510.5,179 512.4,165.7 513.8,175.3 515.8,167.4 517.1,176.9 518.2,167 519.3,172.1 520.9,167.1 522.2,178.8 523.6,167.6 524.7,182.6 526.2,166 527.6,179.4 528.8,168.2 530.1,176.2 531.2,166.9 533.2,172.8 534.4,167.1 536.1,172.1 537.4,167.3 538.7,170.4 540.5,168.1 542.3,182.8 543.6,166.4 545.2,179.2 546.9,167.2 547.6,165 303.6,165" fill="#5aa2e6" fill-opacity="0.42" stroke="none"/>
<polyline points="303.6,179 305.1,166 306.8,176.6 308.5,165.6 309.9,171.7 311.7,166.9 313,181.7 314.6,166.4 316,170 317.2,165.6 319.2,183.2 320.8,168.3 322.3,180.2 323.5,166.8 325.2,176.1 326.9,166.5 328.6,173.1 330.1,166.8 331.7,170.8 333,167.6 334.2,177.1 336.2,167.3 338,181.6 340,166.7 341.4,181.3 342.6,166.9 343.9,178.4 345.7,168.1 347.2,180.4 348.4,167.5 350.3,179.2 351.9,167 353.3,172.7 354.6,167.9 356.2,170.6 357.8,168 359.5,172.7 361.5,166 363,176.9 364.3,166.3 365.5,172.5 366.7,167.4 368.4,173.8 370.3,166.8 371.8,183.9 373.5,166.9 375.3,181.1 376.7,165.7 378.4,181.2 380.1,165.9 381.9,172.6 383.7,167.4 385.3,171.1 386.8,167.7 388,170.6 389.4,168.1 391.1,173.4 392.3,168 394.1,180.5 395.4,167.8 396.5,172.6 397.9,168.4 399.1,172.4 400.8,167.8 402.2,171.1 404,168.4 405.9,178.5 407.1,167.7 408.8,182.5 410.6,167 412.6,176.9 414.1,167.4 415.9,178.8 417.8,166.3 419.7,183.2 421.1,165.6 422.8,179.3 424.8,167.2 426.5,181.4 427.8,167.5 429.2,173.2 430.6,166.6 432.4,178.3 433.7,165.7 435.6,181.3 437.4,167.9 438.6,174.2 440.1,166.4 441.9,173.1 443,166.9 444.2,170.4 445.8,167.3 447.4,171.1 449,167.1 450.4,173.3 451.6,166.9 453.1,178.8 454.8,166.3 456.4,173.9 458.2,166.1 459.8,181 461.6,167.1 463.6,184.8 465.4,166.6 466.7,179.4 467.9,166 469.1,179.8 470.6,168.3 472.4,178 473.8,166.5 474.9,171.7 476.8,166.4 477.9,184.7 479.4,167.8 480.9,184.5 482.1,166.9 483.7,170.4 485.7,166.5 487.4,171.2 488.5,165.8 490.4,184.1 492.3,167.1 493.5,181.7 495,167.8 496.7,178.5 497.9,165.9 499.1,176.5 500.5,168.4 501.6,181.4 502.8,165.8 504.8,173.3 506.4,167.3 507.9,175.2 509.1,167.6 510.5,179 512.4,165.7 513.8,175.3 515.8,167.4 517.1,176.9 518.2,167 519.3,172.1 520.9,167.1 522.2,178.8 523.6,167.6 524.7,182.6 526.2,166 527.6,179.4 528.8,168.2 530.1,176.2 531.2,166.9 533.2,172.8 534.4,167.1 536.1,172.1 537.4,167.3 538.7,170.4 540.5,168.1 542.3,182.8 543.6,166.4 545.2,179.2 546.9,167.2" stroke="#3b7fd8" stroke-width="0.5" fill="none" stroke-opacity="0.9"/>
<polygon points="303.6,165.5 303.6,172.4 304.5,167.1 305.7,171.5 307.2,168.9 308.2,176.8 309.5,167 310.6,173.2 311.6,167.1 312.6,171.1 313.8,168 314.7,176.5 316.3,168 317.7,173.1 319.1,168.6 320.2,175.4 321.3,167.3 322.4,171.7 323.8,167.5 325,175.9 326.2,168.8 327.6,175.2 329,168.4 330.6,174.6 331.9,168.1 333.1,176.6 334.1,167.4 335.3,172.9 336.7,168.3 337.5,172.3 338.8,167.8 340.2,173.8 341.1,168.4 342.6,171.6 343.9,168.2 345.2,174 346.4,169 347.9,173.6 349.4,168.3 350.8,177 351.7,167.4 352.7,175.9 354.2,167.5 355.4,176.3 356.8,168.2 358.3,176.5 359.1,168.9 360.2,174.7 361.6,167.6 362.6,176.4 364.1,169 364.9,174.8 366.3,168.9 367.7,172.7 368.6,167.3 369.6,174.4 370.7,167.3 371.5,175.1 373,167.2 374.2,176.9 375.3,168.1 376.7,171.1 378.2,168.5 379.6,173.1 380.8,168.9 381.7,171.5 383,168.9 383.9,172.1 385.1,168.6 386.3,175 387.1,167.4 388.4,175.3 389.3,167.2 390.3,173.5 391.4,167.3 392.3,174.9 393.8,168.3 395.4,171.8 396.7,167.7 398.1,174.6 399.4,168.8 401,171.8 402.1,167.2 403.4,172.3 404.7,167.7 405.6,176.3 406.5,167.5 407.7,171.3 409.1,168.4 410,174.7 410.9,168.1 411.8,172.7 412.9,168.1 414.2,176.6 415.3,167.7 416.3,175.4 417.4,167.4 418.3,173.5 419.8,167.9 421.2,173.8 422.5,167.5 423.6,175.3 424.5,167.9 425.5,172.7 426.6,167.4 427.8,171.2 428.8,167.5 429.8,176 431.1,168.8 432,172.1 433.1,168 434.5,176 436,167 436.9,173 438,167 439.1,171.8 440.6,167.4 441.6,172 443.1,167.2 444.3,172.3 445.3,169 446.6,175.4 447.7,169 449.3,174.8 450.3,167.1 451.5,173.9 453,169 454.4,172.5 456,168.2 456.9,172.2 458.4,168.6 459.8,175 460.6,168.9 461.7,175.6 462.9,168 464.1,176.5 465.6,167.8 467.1,172.1 468.2,167.6 469,173.4 469.8,168.9 471.3,173.9 472.1,167.5 473.5,172.8 474.4,167.9 475.7,171.8 476.8,168.1 478.2,173.4 479.8,167.5 481.2,171.5 482.7,168.1 483.6,175.9 485.1,167.3 486.6,176.8 487.7,168.6 489.1,174.4 490.2,167.6 491.7,175.7 493.2,167.1 494.5,175.2 495.4,167 497,175.7 498.3,167.7 499.5,175.9 500.4,168.4 501.7,173.8 503.3,168.3 504.8,172.2 505.9,167.6 507.1,175.5 508.7,168.8 510.2,176.9 511.6,168.5 512.5,173.4 513.6,167.2 515.2,173.2 516.2,167.2 517.4,173 518.9,168.3 520.1,171.9 520.9,168.4 522.2,174 523.4,167.8 525,171.3 525.9,168.6 527,173 528.1,167.6 529.5,171.6 530.8,168.4 531.9,175.4 532.9,168.2 533.8,172.9 535.1,168.2 536.2,171.2 537.5,168.7 538.5,172.2 539.8,167.5 540.7,171.4 542,168.8 543.4,174.5 544.9,168.7 545.9,173.3 547.5,168.9 547.6,165.5" fill="#4a8ee0" fill-opacity="0.45"/>
<path d="M309.5 168L310.8 192.7L312.1 168ZM317.2 168L318.5 196L319.8 168ZM326.1 168L327.4 190.5L328.7 168ZM334.3 168L335.6 208.3L336.9 168ZM341.6 168L342.9 191.6L344.2 168ZM352.7 168L354 192.7L355.3 168ZM358.2 168L359.5 190.5L360.8 168ZM368.2 168L369.5 202.7L370.8 168ZM377.1 168L378.4 190.5L379.7 168ZM392.6 168L393.9 186L395.2 168ZM402.6 168L403.9 193.8L405.2 168ZM410.3 168L411.6 192.7L412.9 168ZM419.2 168L420.5 186L421.8 168ZM426.4 168L427.7 197.4L429 168ZM434.9 168L436.2 185L437.5 168ZM443.8 168L445.1 207.4L446.4 168ZM452.3 168L453.6 200.7L454.9 168ZM460.6 168L461.9 186L463.2 168ZM469.6 168L470.9 186L472.2 168ZM477.4 168L478.7 187.3L480 168ZM485.9 168L487.2 206.3L488.5 168ZM494.2 168L495.5 194L496.8 168ZM502.4 168L503.7 205.2L505 168ZM512.1 168L513.4 195.1L514.7 168ZM519.9 168L521.2 209.7L522.5 168ZM527.7 168L529 220.9L530.3 168ZM536.7 168L538 191.8L539.3 168ZM542.3 168L543.6 188.4L544.9 168ZM303.7 168L304.6 182.4L305.5 168ZM306.4 168L307.3 174.4L308.2 168ZM309 168L309.9 176.5L310.8 168ZM312.3 168L313.2 182.8L314.1 168ZM315.6 168L316.5 186.7L317.4 168ZM317.6 168L318.5 176.1L319.4 168ZM319.8 168L320.7 178.5L321.6 168ZM323.6 168L324.5 180L325.4 168ZM327.2 168L328.1 175.7L329 168ZM329.9 168L330.8 185L331.7 168ZM332.5 168L333.4 184L334.3 168ZM335.7 168L336.6 182.8L337.5 168ZM337.7 168L338.6 178.4L339.5 168ZM341.7 168L342.6 178.6L343.5 168ZM344.3 168L345.2 188L346.1 168ZM347.5 168L348.4 183.4L349.3 168ZM350.4 168L351.3 182.3L352.2 168ZM353.2 168L354.1 177.1L355 168ZM355.8 168L356.7 176.4L357.6 168ZM359.2 168L360.1 174.3L361 168ZM361.4 168L362.3 180.6L363.2 168ZM365.4 168L366.3 184.7L367.2 168ZM368.7 168L369.6 184.1L370.5 168ZM371.1 168L372 180.7L372.9 168ZM373.2 168L374.1 180.8L375 168ZM375.2 168L376.1 174.7L377 168ZM377.5 168L378.4 178.2L379.3 168ZM380.4 168L381.3 176.3L382.2 168ZM382.6 168L383.5 174.8L384.4 168ZM386.5 168L387.4 187.8L388.3 168ZM390.3 168L391.2 175L392.1 168ZM392.7 168L393.6 186.2L394.5 168ZM394.7 168L395.6 175.2L396.5 168ZM398 168L398.9 187.5L399.8 168ZM401.9 168L402.8 185.7L403.7 168ZM404.5 168L405.4 184L406.3 168ZM408.4 168L409.3 186.5L410.2 168ZM412.3 168L413.2 184.4L414.1 168ZM415.9 168L416.8 183.5L417.7 168ZM418.8 168L419.7 181.6L420.6 168ZM422.6 168L423.5 181.6L424.4 168ZM424.7 168L425.6 179.7L426.5 168ZM428.4 168L429.3 183.6L430.2 168ZM431.4 168L432.3 187L433.2 168ZM434.9 168L435.8 176.4L436.7 168ZM438.3 168L439.2 186L440.1 168ZM440.3 168L441.2 187.1L442.1 168ZM443.2 168L444.1 185.7L445 168ZM445.2 168L446.1 177.8L447 168ZM447.8 168L448.7 176.3L449.6 168ZM451.1 168L452 184.9L452.9 168ZM454.4 168L455.3 186.6L456.2 168ZM456.6 168L457.5 177.3L458.4 168ZM459.4 168L460.3 184.9L461.2 168ZM462.9 168L463.8 187.9L464.7 168ZM466.7 168L467.6 181L468.5 168ZM470.1 168L471 185.3L471.9 168ZM473.2 168L474.1 183.2L475 168ZM476.9 168L477.8 185.5L478.7 168ZM479.2 168L480.1 173.4L481 168ZM482.6 168L483.5 185.2L484.4 168ZM485 168L485.9 185.8L486.8 168ZM488.5 168L489.4 175.5L490.3 168ZM490.8 168L491.7 182.9L492.6 168ZM494.1 168L495 175.4L495.9 168ZM497.9 168L498.8 176.2L499.7 168ZM501.6 168L502.5 187.2L503.4 168ZM503.8 168L504.7 183.5L505.6 168ZM506.9 168L507.8 186.7L508.7 168ZM509.8 168L510.7 179.2L511.6 168ZM512.3 168L513.2 185.7L514.1 168ZM514.9 168L515.8 186.7L516.7 168ZM517 168L517.9 186.3L518.8 168ZM519 168L519.9 183.9L520.8 168ZM522.9 168L523.8 177.8L524.7 168ZM526.1 168L527 179.2L527.9 168ZM528.2 168L529.1 185.6L530 168ZM531.2 168L532.1 185L533 168ZM533.3 168L534.2 175.4L535.1 168ZM535.7 168L536.6 185.2L537.5 168ZM537.8 168L538.7 173.3L539.6 168ZM540.5 168L541.4 178.8L542.3 168ZM544.2 168L545.1 185.9L546 168Z" fill="#3b56cf" fill-opacity="0.85" stroke="none"/>
<polygon points="303.6,163 303.6,170.6 305.2,163.4 307.2,166.9 309,161.9 310.7,169.6 312.8,161.8 314.6,171.1 316.6,160.9 318,168 320.3,161.7 322.6,171.8 324.6,161.7 326.7,169.3 329,162.3 331,170.3 333,160.8 334.8,168.9 336.9,163.5 338.3,168.5 339.8,164.3 341.6,169 344,163.5 346.2,169.3 347.5,161.7 348.8,168.7 350.6,162.2 353,169.4 354.4,160.8 356.4,169.3 358.1,162.2 359.8,170.2 361.7,160.2 363.5,167.9 365.4,162.1 367.5,171.8 369.6,162.8 371.4,167.1 373.5,160.9 375.1,169.7 376.6,163.9 378.5,171.8 379.7,162.1 381.3,169.7 383.3,162.7 385.6,168.9 387.2,163.4 389.1,168 391.4,161 392.7,169.5 395,163.8 397.2,169.9 399,161.3 400.4,168.9 402.6,162.5 405,170.9 406.8,162.7 408.5,171.5 410.7,160.8 413,170.2 414.6,163.4 416.3,170.3 418.1,162.8 420.5,171.4 422.2,161.7 424.3,170.2 425.6,162.3 427.1,170.1 428.5,161.3 430,168 431.9,163.9 433.9,170.1 436,161.8 437.7,170.1 439.2,163.4 441.5,171.3 442.7,164.1 444.2,167.2 446.2,161.6 447.6,169.8 449.4,162.4 451.2,169.9 453.4,163.2 455.4,171.1 457.2,162.9 458.5,166.9 460.2,163.1 461.7,171.8 463.3,162.2 465,171.8 466.4,161.1 468.4,168.5 470,160.6 472.3,168.9 474.2,161.1 476.5,167.1 478.6,160.3 480.4,168.3 482.7,162 484.9,166.7 486.4,164.4 488.1,166.7 489.6,161.6 491.4,168.6 493,162.1 494.7,167.5 496.6,162.6 498.4,170.6 500.2,161 502.5,167.1 504.1,161.9 505.8,167.7 508,161.4 509.9,169.9 511.2,161.9 512.6,169.5 514.7,163.8 517,167.1 518.7,163 520.4,171.7 522.2,163.9 523.5,168.6 525.5,163.8 527.3,171.2 529.4,161.9 531.5,169.3 532.8,164 535,171.4 536.5,163.5 537.7,169.2 539.3,162.3 541,169.5 542.7,163.4 544.7,168 546.1,161.1 547.6,163" fill="#cf92d6" fill-opacity="0.7"/>
<polygon points="303.6,161.3 305.3,158.6 307.4,160.8 308.9,157.6 310,161.9 311.1,157.9 312.9,161.1 315,156.7 316.2,160.3 317.5,158.5 319.4,161.1 321.5,156.2 322.9,161.7 324.5,158.7 326,162.7 327.8,158.3 329.5,160.6 331.2,159.3 332.4,161 333.8,156.5 335.7,161.9 337,158.3 339.1,160.2 340.2,157.9 342.2,161.7 343.9,157.1 345.6,162.7 347.4,158.5 349,162.7 350.9,157.5 352.4,160.9 354.5,158.1 355.7,161.6 357.3,157.9 358.7,162.7 360.3,158.8 361.7,162.7 363.4,157.7 365,162.8 366.7,157.6 368.2,161.4 369.6,157.3 371,160.2 372.5,155.6 374.3,160.3 376.4,156.8 377.8,161.6 379.3,158.4 380.7,162.8 381.8,155.7 383.9,162.1 385.3,158.1 386.8,161.5 388.2,157.7 390,162.5 391.4,157.8 393.1,162.6 394.7,159 396.9,161.2 398.4,159.4 400.1,161.6 402.1,157.9 403.8,162 405.2,157 406.3,162.2 408.3,158.4 410.4,162.3 411.7,156.8 413.8,160.3 415.8,158.7 417.1,160.6 419,158.1 420.1,161.6 421.4,158.9 423.1,160 424.7,155.5 426.8,162.7 428.7,155.5 430.8,160.8 432.6,158.6 434.3,160.3 435.7,158.4 436.9,161.1 439.1,157.1 440.3,162 441.8,158.7 443.3,162.5 445.3,156.2 447,161.3 448.3,159.2 449.7,161.8 450.9,159.3 453.1,162.1 454.3,158.2 455.9,161.4 457.3,156.1 459.3,161.8 461.2,158.5 462.8,161.6 464.2,158.1 465.8,162.4 467.2,157 468.4,160.1 469.7,155.6 471.3,161.1 473.4,155.7 475.5,160.3 477.6,156.9 478.9,161.8 480.4,155.6 481.7,162 483.5,159.5 484.9,162.3 486.4,157.6 487.8,161.2 489.9,156.5 491.5,162.7 493.1,158.8 494.8,161 496.7,158.1 498.2,163 499.4,158.9 501.3,162.1 502.9,158.5 504,162 506.1,157.1 508,162.1 509.7,158.6 511.3,160.4 513,158.5 514.3,161.4 516.3,155.6 518.3,161.1 519.8,158.3 521.5,160.9 522.8,157.2 524.9,163 526.8,158.3 528.6,162.7 529.9,156.1 531.9,160.1 533.6,157.1 535.7,161.9 537.1,155.8 538.7,161.7 540.3,157.8 541.5,161.1 543.5,156.7 544.8,160.5 546.9,159 546.6,168.8 545.3,164.2 543.6,169 542.2,163.2 540.4,168.1 539.2,163.2 537.8,167.6 536.6,164.1 534.5,168.9 532.7,164.2 531.4,167.6 529.8,162.9 528.6,168.1 527,163.1 525.7,167.3 524.4,163.2 522.4,167.9 520.7,163 519.5,166.7 517.7,163.9 516.1,168.6 514.2,163.2 512.3,167.9 510.1,165 508.7,167.9 507.2,162.9 505.3,167.4 503.1,163.7 501.3,168.4 500,163.6 498.3,168.3 496.7,163.9 494.5,167.1 492.7,163 490.5,166.1 488.9,163 487.6,167 486.4,164.7 485.2,168.4 483.1,163.2 481.1,168.5 479.9,162.6 478.1,168.5 476.2,162.6 474.3,166.4 472.6,165 471.3,167.7 469.6,162.5 467.6,166.7 465.8,163.4 464.7,167.6 462.7,162.7 461.4,166.5 459.6,163.2 457.8,166.5 456.6,163.9 454.9,166.8 453.4,163.2 451.6,168.2 450.4,162.9 449.1,167.9 447.9,163.2 446.7,167.5 445.1,164.9 443.6,166.5 441.9,162.8 440.3,166.5 438.4,163.1 437.1,168 435.8,164.3 433.9,167.7 432.4,164.5 431,168.5 429.7,164.8 428.3,166.4 426.4,162.6 424.8,168.5 423.5,163 421.5,168 419.5,164.9 417.3,168.7 415.5,164.1 413.8,167.5 412,163.3 410.3,168.8 408.7,162.6 407,166.5 405,163.7 403.6,168.6 402.3,163.2 401,166.4 399.8,162.6 398.6,167.5 396.6,164.3 394.8,166.7 393.4,162.9 391.7,166.1 389.7,162.6 387.8,168.5 386.2,162.7 384.7,168.1 383.1,163.8 381.1,168.9 379.3,164.8 377.4,166.5 375.7,163.4 374.1,166.7 372.4,164.9 371.2,166.2 369.6,163.4 368.1,166.3 366.6,163.3 365.4,167.7 363.6,165 361.5,166.3 359.9,163.8 358,166.5 356,164.6 354.3,167.7 352.6,163.3 350.5,167.3 348.3,163.7 346.2,167.6 344.2,164.4 342.1,167 340.2,163.8 338.3,168.3 336.5,163 335.1,169 333.6,164.3 331.4,167.4 330,163.3 328.8,167.6 327.6,164.4 326.3,167 324.8,163 323.5,168.8 321.6,164.4 320.1,166.8 319,163.6 317.2,166.5 315.1,163.1 313.3,166.1 311.8,164.3 310.5,168.8 309.2,164.2 307.2,168.9 305.1,164.7 303.6,167" fill="#d8b44c" fill-opacity="0.8"/>
<polygon points="303.6,149.1 304.5,160 305.3,144.9 306.7,158.9 307.7,146.8 309.3,159.1 310.4,149.5 311.2,160.5 312.1,146.5 313.2,162 314.3,146.2 315.4,159.6 316.3,146.4 317.7,159.7 318.6,142.5 320.1,159.5 321.1,153.9 322.7,160.4 323.5,153.7 324.9,158.6 326,153.7 327.1,159.1 328.7,145 329.7,160.9 331.3,151.9 332.1,158.6 333,151.3 334.6,158.9 335.9,151.5 336.8,161.7 337.8,147.2 339.3,160.4 340.6,142.8 341.9,159 343.3,152.8 344.6,160.8 346.2,153.6 347.6,159.8 348.4,156 349.2,158.7 350.5,155.9 351.7,159.2 352.5,144.3 353.6,159.7 354.6,154.3 356.2,161.9 357.2,151.8 358.1,160.1 359.3,146.4 360.7,159.3 362.2,152.7 363.5,158.8 364.4,153.3 365.9,159.3 367.3,152.6 368.8,159 369.7,142.9 371.1,159.8 372.4,144.3 373.7,159.5 374.9,150.3 376.5,159.2 377.9,142.7 378.8,160.9 379.7,153.8 381.2,159.3 382.6,151.1 384.1,160.2 385.2,154.3 386.3,161.7 387.3,147.7 388.8,161.1 389.8,151.2 391.3,159.9 392.6,151.2 394,159.9 395.1,144.5 396.4,159.7 397.8,142.6 399.2,159.1 400.7,153.5 401.8,158.8 402.8,144.9 404.3,161.3 405.2,142.1 406.4,160.1 407.7,153.8 409.1,159 410.7,148.4 411.9,159 412.9,144.6 413.9,160.4 414.9,145.8 415.8,158.7 417.3,148.1 418.5,159 420.1,142.2 421.5,158.7 422.5,148.8 423.7,161 424.9,151.8 425.8,159.5 426.8,148.7 427.9,158.9 428.9,142.9 429.7,160.8 431.3,150.3 432.2,160.6 433.4,146 434.9,159.4 435.9,142.6 436.9,161.7 438.1,152.2 439.3,159.4 440.4,149.1 441.4,160.3 442.2,147.4 443.1,160.2 444.3,154.8 445.8,161.6 447,146.1 448.5,158.9 449.6,142.9 451,161.1 452.6,144.6 454,160.9 455.3,148.2 456.7,160.2 458.3,155 459.4,160.4 460.5,154.6 462,159.9 463.1,146.4 464.4,160.8 465.7,149.3 467.1,158.5 468.2,151.7 469.6,161.4 470.6,155 472.2,160.7 473.6,144.8 474.6,159.3 475.8,154.5 476.9,161.8 478.4,142.6 479.2,162 480.4,152.9 481.9,159.6 482.7,154.1 484.2,159.9 485.6,142.2 487.1,160.6 488.7,151.6 489.8,159.1 491,154.1 492.2,160.4 493.2,144.1 494.2,159.6 495.4,155.2 496.4,159.3 497.8,155.1 498.8,159.5 499.9,142.9 500.8,160.4 501.8,145.3 503.2,160.2 504.5,151.2 505.9,161.7 507.4,143.6 508.8,158.6 509.7,145.6 510.6,159 511.6,153.4 513,160.3 514.3,152.5 515.5,158.8 516.7,144.8 517.9,161.9 518.8,146.5 520.1,160.8 521.2,147.5 522.4,161.8 523.2,154.5 524.4,161.7 525.6,151.1 526.4,159.3 527.7,146.6 528.9,161.9 530.2,151.4 531.4,159.4 533,147.3 533.8,160 534.9,144.9 536.1,158.8 537.6,149.3 538.7,160.4 539.9,147.4 541.4,160.1 542.9,152.7 544.3,159.1 545.6,155.7 547.1,158.7 547.6,161 303.6,161" fill="#5cb636" fill-opacity="0.85"/>
<polyline points="303.6,149.1 304.5,160 305.3,144.9 306.7,158.9 307.7,146.8 309.3,159.1 310.4,149.5 311.2,160.5 312.1,146.5 313.2,162 314.3,146.2 315.4,159.6 316.3,146.4 317.7,159.7 318.6,142.5 320.1,159.5 321.1,153.9 322.7,160.4 323.5,153.7 324.9,158.6 326,153.7 327.1,159.1 328.7,145 329.7,160.9 331.3,151.9 332.1,158.6 333,151.3 334.6,158.9 335.9,151.5 336.8,161.7 337.8,147.2 339.3,160.4 340.6,142.8 341.9,159 343.3,152.8 344.6,160.8 346.2,153.6 347.6,159.8 348.4,156 349.2,158.7 350.5,155.9 351.7,159.2 352.5,144.3 353.6,159.7 354.6,154.3 356.2,161.9 357.2,151.8 358.1,160.1 359.3,146.4 360.7,159.3 362.2,152.7 363.5,158.8 364.4,153.3 365.9,159.3 367.3,152.6 368.8,159 369.7,142.9 371.1,159.8 372.4,144.3 373.7,159.5 374.9,150.3 376.5,159.2 377.9,142.7 378.8,160.9 379.7,153.8 381.2,159.3 382.6,151.1 384.1,160.2 385.2,154.3 386.3,161.7 387.3,147.7 388.8,161.1 389.8,151.2 391.3,159.9 392.6,151.2 394,159.9 395.1,144.5 396.4,159.7 397.8,142.6 399.2,159.1 400.7,153.5 401.8,158.8 402.8,144.9 404.3,161.3 405.2,142.1 406.4,160.1 407.7,153.8 409.1,159 410.7,148.4 411.9,159 412.9,144.6 413.9,160.4 414.9,145.8 415.8,158.7 417.3,148.1 418.5,159 420.1,142.2 421.5,158.7 422.5,148.8 423.7,161 424.9,151.8 425.8,159.5 426.8,148.7 427.9,158.9 428.9,142.9 429.7,160.8 431.3,150.3 432.2,160.6 433.4,146 434.9,159.4 435.9,142.6 436.9,161.7 438.1,152.2 439.3,159.4 440.4,149.1 441.4,160.3 442.2,147.4 443.1,160.2 444.3,154.8 445.8,161.6 447,146.1 448.5,158.9 449.6,142.9 451,161.1 452.6,144.6 454,160.9 455.3,148.2 456.7,160.2 458.3,155 459.4,160.4 460.5,154.6 462,159.9 463.1,146.4 464.4,160.8 465.7,149.3 467.1,158.5 468.2,151.7 469.6,161.4 470.6,155 472.2,160.7 473.6,144.8 474.6,159.3 475.8,154.5 476.9,161.8 478.4,142.6 479.2,162 480.4,152.9 481.9,159.6 482.7,154.1 484.2,159.9 485.6,142.2 487.1,160.6 488.7,151.6 489.8,159.1 491,154.1 492.2,160.4 493.2,144.1 494.2,159.6 495.4,155.2 496.4,159.3 497.8,155.1 498.8,159.5 499.9,142.9 500.8,160.4 501.8,145.3 503.2,160.2 504.5,151.2 505.9,161.7 507.4,143.6 508.8,158.6 509.7,145.6 510.6,159 511.6,153.4 513,160.3 514.3,152.5 515.5,158.8 516.7,144.8 517.9,161.9 518.8,146.5 520.1,160.8 521.2,147.5 522.4,161.8 523.2,154.5 524.4,161.7 525.6,151.1 526.4,159.3 527.7,146.6 528.9,161.9 530.2,151.4 531.4,159.4 533,147.3 533.8,160 534.9,144.9 536.1,158.8 537.6,149.3 538.7,160.4 539.9,147.4 541.4,160.1 542.9,152.7 544.3,159.1 545.6,155.7 547.1,158.7" stroke="#3f9e2a" stroke-width="0.5" fill="none"/>
<polygon points="303.6,154 303.6,161 305.3,158.7 307,163 308.5,158.2 310,163.4 311.2,157.4 312.8,161.2 314.4,158.7 315.5,163.2 317.2,158.7 319.2,162.9 320.8,157.4 322.2,162.8 323.5,158.4 325.1,162.3 326.6,158.1 328.4,163.4 330.1,156.7 331.1,161.4 332.2,157.5 333.3,162.4 335.1,157.3 336.9,162.1 338.4,156.8 339.5,162.7 340.7,156.4 342,163.2 343.9,156.7 345.2,163.9 346.8,158.4 348.8,163 350,158.9 351.9,161 353.9,157.9 355.1,162.4 356.4,158.3 357.8,161.3 359.7,157 360.9,163.1 362,157.8 363.4,161.4 365.4,158.1 366.5,163.7 368.1,158.5 369.9,161.5 371.2,156.5 373,163.8 374.6,158 376.5,162.6 378,156.8 380,161.4 381.2,158.6 382.2,161.6 383.7,156.7 385.1,161.1 386.8,156.2 388.1,161.3 389.8,156.7 391.3,161.1 392.9,157 394.8,161.6 396.1,158.6 397.1,162.5 398.6,156.9 399.8,162.5 400.8,156 402.1,162.1 403.4,158.1 404.8,162.8 406.4,158.1 408.3,162.7 410,157.7 411.1,163.5 412.6,156.1 414.3,162.5 416.3,157.3 417.8,163.7 419.7,158.3 421.1,162.3 422.9,158.7 424.3,163.1 425.9,157.7 427.1,161.8 428.4,159 429.4,161.7 430.6,158.4 432.3,161.9 433.4,158 435.1,162.9 436.8,157.8 437.9,163.4 439.7,156.5 441.1,164 443.1,158.5 444.9,161.5 446.8,158.5 448,163.7 449.8,158.7 451.7,161.3 452.9,158.4 454.1,162 455.9,158.5 457.3,162.2 458.9,159 460.6,162 461.8,156.6 463.4,163.2 464.7,158.2 466.3,162.7 467.8,157.2 468.8,162.6 470.5,158.7 472.4,162.9 473.6,158.6 475,163.9 477,156.3 478,161.1 479.7,157.5 481.3,162 482.9,156.3 484.1,163.2 485.3,156.3 487,163.9 488.9,158.6 490.6,161 491.8,157.7 493.3,163.5 494.3,157.9 495.4,163.3 496.5,157.5 498.3,164 500.1,158.3 501.4,162.9 502.9,157.5 504.5,162.3 505.9,158.3 507.5,163.9 509.5,158.4 510.6,162.5 512.1,158.4 514,161.6 515,158.6 517,162 518.6,157.2 520,162.9 521.6,158.7 523,162.5 524.5,159 526,163.8 527.9,156.1 529.7,161.3 531.2,157.9 532.3,162.7 534,157 535.5,162.2 536.7,156.8 538.6,162.9 540.2,158.4 542,163.3 543.4,157.6 544.7,161.2 546.6,156.2 547.6,154" fill="#a8b83a" fill-opacity="0.55"/>
<polyline points="303.6,156.5 305.3,161.2 306.6,149.5 308.5,160.4 310.8,157 313.2,159.1 315.8,148.5 317.7,159.5 319,150 321.6,161.4 323.4,158 325.6,158.6 327.7,150 329.4,160.7 331,151.5 332.3,159.5 334,149.1 335.4,159.7 336.8,157.4 338.4,159.6 339.8,156.1 341.3,158.7 343.1,157.1 345.6,159.9 347.7,148.7 350.2,160.8 351.8,156.4 353.3,159.9 355,153.7 356.6,160.1 358.2,148.2 359.7,160.9 361.5,153.1 363.7,159.3 365.2,152.1 367.5,160.7 369.4,154.1 371,161.3 373.2,156 375,160.2 377.2,153.3 379.5,159.3 381.8,151.2 383.8,158.9 385.6,156.9 386.9,159.1 388.9,154.6 391.1,160.6 393.4,154 394.9,160.1 396.5,148.1 398.5,161.4 400.4,155.6 402.5,158.6 404.5,157.9 406.7,159.4 409.1,154.7 411.7,161 413.7,152.7 415.7,159.5 418.1,149.3 420.7,159.5 422.6,154.1 424.3,160.3 425.6,156.7 427.1,161.1 429.5,155.9 431.8,159.1 433.8,148.6 436.1,160.9 437.7,152.4 439.1,160.5 441.3,148.6 443.4,161.1 444.9,157.1 446.6,158.5 448,155.6 449.5,161.1 451.4,148.8 453.8,159.5 455.2,148 456.9,159.9 458.9,153.8 460.3,158.5 462.7,152.2 465,161.2 467,155.4 468.6,159.1 470.6,157.9 473.1,159.2 475.3,150.9 477,159.3 479.6,151.8 481.5,158.8 483.9,148.9 486.3,159.2 487.9,148.4 489.7,161.4 491.5,151.3 493.7,159.2 496,157.7 498.4,158.6 500.7,155.9 503.1,160.2 504.5,154.8 506.6,160 508.9,149.8 510.6,160.4 513.1,157.9 515.6,159.3 517.4,153.2 519.3,158.7 521.1,157.3 522.9,161.1 525.3,153.1 527.8,161.4 529.1,153.9 531.7,159.4 533.4,149.5 535.9,160.2 538,154 540.4,160.1 542.4,152.5 544.2,161.4 546.3,152.9" stroke="#a8c832" stroke-width="0.6" fill="none" stroke-opacity="0.8"/>
<path d="M373 160V141" stroke="#6f7fdc" stroke-width="0.8"/>
<path d="M375 160V128.3" stroke="#4fa6d8" stroke-width="0.8"/>
<path d="M391.6 160V134" stroke="#6f7fdc" stroke-width="0.8"/>
<path d="M458.7 160V139" stroke="#6f7fdc" stroke-width="0.8"/>
<path d="M476 160V139" stroke="#6f7fdc" stroke-width="0.8"/>
<g fill="#1c1c8c"><circle cx="304" cy="136.6" r="0.75"/><circle cx="305.3" cy="137" r="0.75"/><circle cx="305.9" cy="144.7" r="0.75"/><circle cx="308.8" cy="145.7" r="0.75"/><circle cx="310.7" cy="147.6" r="0.75"/><circle cx="313.6" cy="143.8" r="0.75"/><circle cx="315.5" cy="145.7" r="0.75"/><circle cx="317.5" cy="144.7" r="0.75"/><circle cx="320" cy="140.9" r="0.75"/><circle cx="321.3" cy="142.8" r="0.75"/><circle cx="323.3" cy="149.6" r="0.75"/><circle cx="325.2" cy="145.7" r="0.75"/><circle cx="326.2" cy="140.9" r="0.75"/><circle cx="327.1" cy="137" r="0.75"/><circle cx="329" cy="144.7" r="0.75"/><circle cx="332" cy="145.7" r="0.75"/><circle cx="333.9" cy="147.6" r="0.75"/><circle cx="336.8" cy="151.5" r="0.75"/><circle cx="339.7" cy="146.7" r="0.75"/><circle cx="341.6" cy="143.8" r="0.75"/><circle cx="343.5" cy="145.7" r="0.75"/><circle cx="345.5" cy="140.9" r="0.75"/><circle cx="346.7" cy="141.3" r="0.75"/><circle cx="347.8" cy="141.3" r="0.75"/><circle cx="353.2" cy="121.6" r="0.75"/><circle cx="354.2" cy="123.5" r="0.75"/><circle cx="357.4" cy="118.7" r="0.75"/><circle cx="359" cy="124.5" r="0.75"/><circle cx="360" cy="129.3" r="0.75"/><circle cx="355" cy="137" r="0.75"/><circle cx="356" cy="135" r="0.75"/><circle cx="361" cy="137" r="0.75"/><circle cx="362.8" cy="148.6" r="0.75"/><circle cx="378.4" cy="143.8" r="0.75"/><circle cx="381.3" cy="145.7" r="0.75"/><circle cx="384.2" cy="146.7" r="0.75"/><circle cx="387.1" cy="149.6" r="0.75"/><circle cx="389" cy="148.6" r="0.75"/><circle cx="394.9" cy="133.2" r="0.75"/><circle cx="397.7" cy="140.9" r="0.75"/><circle cx="398.7" cy="145.7" r="0.75"/><circle cx="400.6" cy="150.5" r="0.75"/><circle cx="403.5" cy="149.6" r="0.75"/><circle cx="406.4" cy="151.5" r="0.75"/><circle cx="408.4" cy="144.7" r="0.75"/><circle cx="409.3" cy="134.1" r="0.75"/><circle cx="411.3" cy="132.2" r="0.75"/><circle cx="412.8" cy="139" r="0.75"/><circle cx="414.2" cy="140.9" r="0.75"/><circle cx="415.1" cy="143.8" r="0.75"/><circle cx="417" cy="145.7" r="0.75"/><circle cx="419" cy="134.1" r="0.75"/><circle cx="421" cy="135" r="0.75"/><circle cx="422.8" cy="140.9" r="0.75"/><circle cx="425" cy="140" r="0.75"/><circle cx="428.8" cy="144.7" r="0.75"/><circle cx="433.6" cy="140.9" r="0.75"/><circle cx="437.5" cy="139" r="0.75"/><circle cx="440.4" cy="140.9" r="0.75"/><circle cx="444.2" cy="145.7" r="0.75"/><circle cx="446.2" cy="143.8" r="0.75"/><circle cx="453.9" cy="146.7" r="0.75"/><circle cx="454.9" cy="144.7" r="0.75"/><circle cx="457.8" cy="149.6" r="0.75"/><circle cx="465.5" cy="151.5" r="0.75"/><circle cx="470" cy="148" r="0.75"/><circle cx="475" cy="146" r="0.75"/><circle cx="480" cy="150" r="0.75"/><circle cx="487" cy="147.6" r="0.75"/><circle cx="488.9" cy="150.5" r="0.75"/><circle cx="490.8" cy="148.6" r="0.75"/><circle cx="493.7" cy="146.7" r="0.75"/><circle cx="495.6" cy="147.6" r="0.75"/><circle cx="497.5" cy="148.6" r="0.75"/><circle cx="515.9" cy="137" r="0.75"/><circle cx="517.8" cy="140" r="0.75"/><circle cx="520.7" cy="129.3" r="0.75"/><circle cx="522.6" cy="128.3" r="0.75"/><circle cx="524.6" cy="127.4" r="0.75"/><circle cx="521.7" cy="132.2" r="0.75"/><circle cx="526.5" cy="137" r="0.75"/><circle cx="529.4" cy="137" r="0.75"/><circle cx="526.5" cy="140.9" r="0.75"/><circle cx="532.3" cy="143.8" r="0.75"/><circle cx="534.2" cy="145.7" r="0.75"/><circle cx="538.1" cy="142.8" r="0.75"/><circle cx="541" cy="144.7" r="0.75"/><circle cx="542.9" cy="140.9" r="0.75"/><circle cx="544.8" cy="140" r="0.75"/><circle cx="546.5" cy="143" r="0.75"/><circle cx="304.1" cy="150.1" r="0.75"/><circle cx="305.4" cy="147" r="0.75"/><circle cx="306.9" cy="145.4" r="0.75"/><circle cx="308.4" cy="142.3" r="0.75"/><circle cx="310.2" cy="140.3" r="0.75"/><circle cx="311.7" cy="151.7" r="0.75"/><circle cx="313.1" cy="154.1" r="0.75"/><circle cx="314.9" cy="142" r="0.75"/><circle cx="317.1" cy="145.2" r="0.75"/><circle cx="318.8" cy="138" r="0.75"/><circle cx="320.3" cy="155.8" r="0.75"/><circle cx="322.2" cy="146.3" r="0.75"/><circle cx="324.2" cy="139.7" r="0.75"/><circle cx="325.6" cy="154.4" r="0.75"/><circle cx="327.7" cy="144.1" r="0.75"/><circle cx="330.1" cy="143.5" r="0.75"/><circle cx="331.9" cy="152.9" r="0.75"/><circle cx="334.3" cy="143.3" r="0.75"/><circle cx="336.9" cy="142" r="0.75"/><circle cx="338.5" cy="147.8" r="0.75"/><circle cx="340.5" cy="148.3" r="0.75"/><circle cx="342.3" cy="152.8" r="0.75"/><circle cx="343.9" cy="146.3" r="0.75"/><circle cx="346" cy="154.9" r="0.75"/><circle cx="347.6" cy="144.7" r="0.75"/><circle cx="368.7" cy="154" r="0.75"/><circle cx="370.4" cy="142.8" r="0.75"/><circle cx="372.8" cy="141" r="0.75"/><circle cx="374.8" cy="152.6" r="0.75"/><circle cx="376.7" cy="143.6" r="0.75"/><circle cx="378.7" cy="144.4" r="0.75"/><circle cx="380.9" cy="153.1" r="0.75"/><circle cx="383.2" cy="152.7" r="0.75"/><circle cx="384.6" cy="143.1" r="0.75"/><circle cx="386.7" cy="150.1" r="0.75"/><circle cx="389.1" cy="146.4" r="0.75"/><circle cx="390.4" cy="139.4" r="0.75"/><circle cx="391.7" cy="148.2" r="0.75"/><circle cx="393.3" cy="138.7" r="0.75"/><circle cx="395.8" cy="139.2" r="0.75"/><circle cx="397.5" cy="152.7" r="0.75"/><circle cx="399.7" cy="142.2" r="0.75"/><circle cx="402.2" cy="146.5" r="0.75"/><circle cx="404.6" cy="146" r="0.75"/><circle cx="406.7" cy="156.2" r="0.75"/><circle cx="408" cy="148.8" r="0.75"/><circle cx="410" cy="156.4" r="0.75"/><circle cx="412" cy="143" r="0.75"/><circle cx="413.4" cy="148.5" r="0.75"/><circle cx="414.8" cy="144.7" r="0.75"/><circle cx="417.4" cy="141.5" r="0.75"/><circle cx="418.9" cy="150.7" r="0.75"/><circle cx="420.8" cy="155.3" r="0.75"/><circle cx="422.4" cy="152.4" r="0.75"/><circle cx="424.2" cy="156.9" r="0.75"/><circle cx="426.7" cy="141.7" r="0.75"/><circle cx="428.4" cy="147" r="0.75"/><circle cx="430.3" cy="149.2" r="0.75"/><circle cx="432.5" cy="140.8" r="0.75"/><circle cx="434.6" cy="153.6" r="0.75"/><circle cx="436.3" cy="143.1" r="0.75"/><circle cx="437.9" cy="149.5" r="0.75"/><circle cx="439.3" cy="142" r="0.75"/><circle cx="440.9" cy="151.1" r="0.75"/><circle cx="443.1" cy="148.3" r="0.75"/><circle cx="444.5" cy="144.7" r="0.75"/><circle cx="445.8" cy="156.9" r="0.75"/><circle cx="447.7" cy="153.9" r="0.75"/><circle cx="449.2" cy="143.2" r="0.75"/><circle cx="450.6" cy="145.4" r="0.75"/><circle cx="452.8" cy="148.5" r="0.75"/><circle cx="454.4" cy="140.4" r="0.75"/><circle cx="456" cy="152.6" r="0.75"/><circle cx="457.4" cy="156.8" r="0.75"/><circle cx="459.8" cy="141.2" r="0.75"/><circle cx="461" cy="153.7" r="0.75"/><circle cx="462.3" cy="150.7" r="0.75"/><circle cx="464.2" cy="145.8" r="0.75"/><circle cx="466.2" cy="138.3" r="0.75"/><circle cx="468.4" cy="154" r="0.75"/><circle cx="469.7" cy="143.4" r="0.75"/><circle cx="472.1" cy="141.7" r="0.75"/><circle cx="473.5" cy="153.3" r="0.75"/><circle cx="476.1" cy="156.8" r="0.75"/><circle cx="477.5" cy="140.5" r="0.75"/><circle cx="478.8" cy="140.2" r="0.75"/><circle cx="480.4" cy="156.2" r="0.75"/><circle cx="482.7" cy="141.4" r="0.75"/><circle cx="484.4" cy="148.4" r="0.75"/><circle cx="485.8" cy="139.1" r="0.75"/><circle cx="487.3" cy="143.7" r="0.75"/><circle cx="488.6" cy="156.5" r="0.75"/><circle cx="491.1" cy="147" r="0.75"/><circle cx="492.9" cy="148.5" r="0.75"/><circle cx="495.3" cy="145.8" r="0.75"/><circle cx="497.8" cy="156.2" r="0.75"/><circle cx="499.4" cy="149" r="0.75"/><circle cx="501.9" cy="143.8" r="0.75"/><circle cx="504.5" cy="147.5" r="0.75"/><circle cx="506.6" cy="139.8" r="0.75"/><circle cx="508.4" cy="150.5" r="0.75"/><circle cx="509.9" cy="156.4" r="0.75"/><circle cx="511.6" cy="148.8" r="0.75"/><circle cx="513.9" cy="143.9" r="0.75"/><circle cx="516.1" cy="151.9" r="0.75"/><circle cx="518.4" cy="144" r="0.75"/><circle cx="520.1" cy="149.1" r="0.75"/><circle cx="521.9" cy="147" r="0.75"/><circle cx="523.9" cy="152.4" r="0.75"/><circle cx="525.3" cy="142" r="0.75"/><circle cx="526.7" cy="147.8" r="0.75"/><circle cx="528.2" cy="155.7" r="0.75"/><circle cx="529.6" cy="146.5" r="0.75"/><circle cx="531.9" cy="143.4" r="0.75"/><circle cx="533.2" cy="142.4" r="0.75"/><circle cx="535.4" cy="144.6" r="0.75"/><circle cx="537.9" cy="141" r="0.75"/><circle cx="539.6" cy="147.4" r="0.75"/><circle cx="541.2" cy="143.6" r="0.75"/><circle cx="542.6" cy="147.6" r="0.75"/><circle cx="544.8" cy="145" r="0.75"/><circle cx="547.4" cy="149.8" r="0.75"/></g>
<path d="M364 156.3H375M501.4 156.3H509M420 157H428M440 156.6H446" stroke="#1c1c8c" stroke-width="1.2"/>
<rect x="28.2" y="102.3" width="244.3" height="121" fill="none" stroke="#8c8c8c" stroke-width="0.5"/>
<rect x="303.2" y="101.6" width="244.8" height="120.6" fill="none" stroke="#8c8c8c" stroke-width="0.5"/>
<rect x="186.8" y="2" width="85.8" height="78.9" fill="#eaf1f8"/>
<path d="M186.8 2V80.9M193.95 2V80.9M201.1 2V80.9M208.25 2V80.9M215.4 2V80.9M222.55 2V80.9M229.7 2V80.9M236.85 2V80.9M244 2V80.9M251.15 2V80.9M258.3 2V80.9M265.45 2V80.9M272.6 2V80.9M186.8 2.3H272.6M186.8 8.84H272.6M186.8 15.38H272.6M186.8 21.92H272.6M186.8 28.46H272.6M186.8 35H272.6M186.8 41.54H272.6M186.8 48.08H272.6M186.8 54.62H272.6M186.8 61.16H272.6M186.8 67.7H272.6M186.8 74.24H272.6M186.8 80.78H272.6" stroke="#aeb8c3" stroke-width="0.5" fill="none"/>
<rect x="461" y="1" width="87" height="79" fill="#eaf1f8"/>
<path d="M461 1V80M468.25 1V80M475.5 1V80M482.75 1V80M490 1V80M497.25 1V80M504.5 1V80M511.75 1V80M519 1V80M526.25 1V80M533.5 1V80M540.75 1V80M548 1V80M461 2.2H548M461 10.06H548M461 17.92H548M461 25.78H548M461 33.64H548M461 41.5H548M461 49.36H548M461 57.22H548M461 65.08H548M461 72.94H548" stroke="#aeb8c3" stroke-width="0.5" fill="none"/>
<polyline points="187.1,44.3 187.8,43.5 188.5,41.9 189.2,49.7 189.9,45.8 190.6,48.2 191.3,41.7 192,0.5 192.7,49.2 193.4,44.2 194.1,57 194.8,48.9 195.5,43.5 196.2,42.6 196.9,48 197.6,24 198.3,53.8 199,41 199.7,46.2 200.4,45 201.1,51.4 201.8,42.7 202.5,49.3 203.2,49.1 203.9,43.8 204.6,43.9 205.3,44.1 206,0.5 206.7,44.5 207.4,49.6 208.1,41.1 208.8,44.3 209.5,45.9 210.2,46.5 210.9,52 211.6,47.5 212.3,44.9 213,42.4 213.7,49.2 214.4,49 215.1,47.3 215.8,49.4 216.5,42.5 217.2,47.8 217.9,48 218.6,44.1 219.3,49.2 220,65 220.7,45.7 221.4,49.8 222.1,45.7 222.8,48.9 223.5,44.6 224.2,46.8 224.9,45.4 225.6,17 226.3,47.6 227,47.5 227.7,47.8 228.4,42.9 229.1,81 229.8,81 230.5,47.7 231.2,42.6 231.9,45.9 232.6,41.1 233.3,47.3 234,46.8 234.7,24.3 235.4,46.4 236.1,45 236.8,46 237.5,48.1 238.2,48.7 238.9,49.8 239.6,46.9 240.3,55.4 241,45.6 241.7,42.4 242.4,41.3 243.1,49 243.8,49.8 244.5,48.5 245.2,46.5 245.9,46.6 246.6,42.8 247.3,43.9 248,48.1 248.7,49.4 249.4,66.7 250.1,48 250.8,47.4 251.5,47.3 252.2,42.3 252.9,44.2 253.6,47.7 254.3,33 255,42.5 255.7,45.3 256.4,42.5 257.1,78 257.8,42.4 258.5,42.9 259.2,41.9 259.9,44.7 260.6,44 261.3,42.3 262,42.6 262.7,15.4 263.4,78.8 264.1,43.7 264.8,41.4 265.5,47.7 266.2,42.1 266.9,45.2 267.6,42.2 268.3,20.2 269,74.8 269.7,47.3 270.4,41.8 271.1,20.2 271.8,76.4" stroke="#3b9bd1" stroke-width="0.8" fill="none"/>
<polyline points="187.1,46.7 187.8,40 188.5,45.7 189.2,45.8 189.9,46.3 190.6,42.9 191.3,42.8 192,61 192.7,44.8 193.4,43.4 194.1,45.2 194.8,43 195.5,46.4 196.2,44.3 196.9,41.6 197.6,42.8 198.3,41.3 199,47 199.7,39.7 200.4,42.7 201.1,42.9 201.8,44.4 202.5,40.2 203.2,44.9 203.9,40.4 204.6,41.6 205.3,54.6 206,39.9 206.7,47.7 207.4,39.8 208.1,46.9 208.8,45.1 209.5,47.1 210.2,44.3 210.9,43.9 211.6,43 212.3,43.9 213,42.1 213.7,40.8 214.4,44.2 215.1,46 215.8,47.5 216.5,46.9 217.2,44.4 217.9,41 218.6,44 219.3,40.7 220,46.5 220.7,45.6 221.4,42.5 222.1,42 222.8,46.8 223.5,43 224.2,40 224.9,44.9 225.6,42.8 226.3,40.3 227,46.5 227.7,41.1 228.4,40.9 229.1,43.7 229.8,41.4 230.5,42.1 231.2,43.1 231.9,47.1 232.6,44.3 233.3,42.9 234,46.3 234.7,47.1 235.4,47 236.1,39.5 236.8,46.1 237.5,45.8 238.2,45.3 238.9,45.4 239.6,44.8 240.3,41 241,47.1 241.7,46 242.4,41.3 243.1,43.8 243.8,40.9 244.5,41.3 245.2,44.6 245.9,40.5 246.6,39.4 247.3,44.5 248,44.5 248.7,46.9 249.4,39.5 250.1,48 250.8,19 251.5,47 252.2,46.1 252.9,40.6 253.6,43.3 254.3,45.1 255,44.5 255.7,43.4 256.4,43.8 257.1,41.1 257.8,39.8 258.5,40.6 259.2,43.6 259.9,40.5 260.6,46.7 261.3,41.8 262,39.4 262.7,44.7 263.4,44.9 264.1,45.5 264.8,43 265.5,47 266.2,45 266.9,47.1 267.6,46 268.3,41.6 269,42.9 269.7,41 270.4,44.6 271.1,42.6 271.8,43.2" stroke="#3cb044" stroke-width="0.8" fill="none"/>
<polyline points="187.1,40.4 187.8,39.6 188.5,41.4 189.2,42 189.9,40.3 190.6,39.4 191.3,41.5 192,41.5 192.7,41.2 193.4,42.4 194.1,42.9 194.8,42.2 195.5,41.4 196.2,42.9 196.9,41.3 197.6,41.1 198.3,39.7 199,40.2 199.7,40.4 200.4,40 201.1,40 201.8,39.6 202.5,39.3 203.2,41.2 203.9,40.7 204.6,42.3 205.3,42 206,42.9 206.7,42.8 207.4,39.3 208.1,41.7 208.8,42.9 209.5,39.2 210.2,39.4 210.9,38.9 211.6,39.6 212.3,43 213,42.7 213.7,39.4 214.4,38.8 215.1,39.3 215.8,42.6 216.5,40.2 217.2,41.3 217.9,40.4 218.6,40.7 219.3,41.6 220,42.9 220.7,39.1 221.4,40.6 222.1,41.9 222.8,42.3 223.5,41.6 224.2,40 224.9,38.9 225.6,39.8 226.3,41.3 227,42.7 227.7,41.4 228.4,41.4 229.1,40.5 229.8,42.1 230.5,43.1 231.2,40.9 231.9,41.6 232.6,41.1 233.3,39.9 234,42.8 234.7,39.1 235.4,40.6 236.1,42.9 236.8,41.3 237.5,40.5 238.2,39.7 238.9,40.4 239.6,42.1 240.3,41.8 241,41.5 241.7,43 242.4,40.4 243.1,40.1 243.8,41.5 244.5,42.9 245.2,41.9 245.9,42.6 246.6,42.4 247.3,38.9 248,41.6 248.7,39.9 249.4,41.8 250.1,0.5 250.8,42.3 251.5,39.6 252.2,40.4 252.9,39.5 253.6,42.4 254.3,41.9 255,41.3 255.7,41.2 256.4,42 257.1,40.8 257.8,39.6 258.5,43 259.2,42.2 259.9,41 260.6,41.3 261.3,39.7 262,39.8 262.7,39 263.4,41.7 264.1,42.4 264.8,40 265.5,39.7 266.2,40.7 266.9,40 267.6,42.1 268.3,39.9 269,39.9 269.7,40.6 270.4,42.6 271.1,41.9 271.8,39.3" stroke="#f5a04a" stroke-width="0.8" fill="none" stroke-opacity="0.9"/>
<polyline points="187.1,37.1 187.8,36.9 188.5,38.4 189.2,38.4 189.9,37.2 190.6,37.5 191.3,38.8 192,36.9 192.7,38.6 193.4,38.8 194.1,38.4 194.8,37.6 195.5,38.6 196.2,39 196.9,38.1 197.6,38.3 198.3,38.2 199,39 199.7,39.1 200.4,38.4 201.1,38 201.8,37.1 202.5,38 203.2,37.8 203.9,38.4 204.6,38 205.3,37.4 206,37.3 206.7,38.6 207.4,38.2 208.1,38.6 208.8,37.3 209.5,37.9 210.2,37.1 210.9,37.2 211.6,37.6 212.3,37.5 213,39.1 213.7,37.1 214.4,38 215.1,37 215.8,38.9 216.5,37 217.2,38.9 217.9,37.6 218.6,37.7 219.3,37 220,38.3 220.7,37 221.4,38.4 222.1,38.1 222.8,37.5 223.5,38.4 224.2,38.5 224.9,37 225.6,39 226.3,38.9 227,38.7 227.7,39 228.4,37.6 229.1,37.1 229.8,37.8 230.5,39 231.2,38.4 231.9,37.1 232.6,38.6 233.3,38.7 234,37.9 234.7,38.4 235.4,38.9 236.1,37.8 236.8,38.7 237.5,38.2 238.2,38.7 238.9,38.8 239.6,37.2 240.3,37.3 241,38.2 241.7,37.6 242.4,37.5 243.1,36.8 243.8,37.9 244.5,39.2 245.2,37.8 245.9,37.3 246.6,37.7 247.3,38.2 248,36.9 248.7,37.2 249.4,38.1 250.1,37.7 250.8,38.5 251.5,37.1 252.2,37 252.9,39 253.6,38.6 254.3,38.3 255,38.2 255.7,37.3 256.4,37.2 257.1,37.9 257.8,38.4 258.5,37.9 259.2,38 259.9,37 260.6,39.1 261.3,37.4 262,37.7 262.7,38.7 263.4,39.1 264.1,37.7 264.8,37.9 265.5,38.8 266.2,38 266.9,37.1 267.6,37.3 268.3,37.6 269,36.8 269.7,37 270.4,38.9 271.1,38.8 271.8,38.8" stroke="#f03a3a" stroke-width="0.9" fill="none"/>
<g fill="#14147a"><circle cx="188.1" cy="37.3" r="0.75"/><circle cx="191.1" cy="39.3" r="0.75"/><circle cx="193.7" cy="37.7" r="0.75"/><circle cx="196.7" cy="38.7" r="0.75"/><circle cx="200.3" cy="39.5" r="0.75"/><circle cx="204.2" cy="38.2" r="0.75"/><circle cx="208.1" cy="38.2" r="0.75"/><circle cx="210.9" cy="37.9" r="0.75"/><circle cx="213.8" cy="39.2" r="0.75"/><circle cx="217.5" cy="36.6" r="0.75"/><circle cx="221" cy="38.4" r="0.75"/><circle cx="224.6" cy="36.8" r="0.75"/><circle cx="228" cy="36.6" r="0.75"/><circle cx="231.2" cy="37.5" r="0.75"/><circle cx="234.2" cy="37.6" r="0.75"/><circle cx="237.5" cy="36.7" r="0.75"/><circle cx="240.8" cy="36.5" r="0.75"/><circle cx="244.3" cy="36.4" r="0.75"/><circle cx="247.5" cy="36.3" r="0.75"/><circle cx="251.2" cy="39.3" r="0.75"/><circle cx="254.8" cy="37.8" r="0.75"/><circle cx="258" cy="38.7" r="0.75"/><circle cx="260.6" cy="37.4" r="0.75"/><circle cx="263.9" cy="36.9" r="0.75"/><circle cx="267" cy="37.4" r="0.75"/><circle cx="269.7" cy="38.2" r="0.75"/></g>
<polyline points="461.3,45 461.6,44.5 462.4,41.4 463.2,41.2 463.8,41.9 464.3,41.3 464.9,42.9 465.7,45.6 466.5,47.7 467.3,46.2 468.1,46.1 468.7,49.4 469.3,51.3 469.9,51.5 470.5,55.8 471.3,60 472.1,65.5 472.7,68.1 473.2,68.1 473.8,70.4 474.6,74.6 475.4,76.8 476.2,74.1 477,68.7 477.8,64.7 478.6,57.4 479.4,56.8 480.2,54.2 481,58.8 481.8,63.9 482.4,67.6 482.9,69.9 483.5,75.2 484.3,68.8 485.1,63.9 485.7,62.6 486.3,64.2 486.9,63.8 487.5,62.3 488.1,62.2 488.8,62.1 489.4,60.2 490,59.8 490.8,62.4 491.6,63.9 492.2,64.4 492.8,64.1 493.4,67 494,67.9 494.8,73 495.6,75.2 496.4,76.8 497.2,78.5 497.8,77.4 498.4,72.8 499,69.6 499.6,67.9 500.2,65.2 500.9,64.8 501.5,63 502.1,62.3 502.9,57.6 503.7,55.8 504.2,52.6 504.8,50.9 505.6,55.9 506.4,57.4 507.2,60.9 508,62.3 508.6,63.3 509.1,64 509.7,66.3 510.5,62.6 511.3,59 512.1,56.8 512.9,55.8 513.7,57.1 514.5,57.4 515.3,57.4 516.1,59 516.7,61.6 517.2,64.3 517.8,65.5 518.6,67.9 519.4,72 520.2,62.3 521,59.6 521.8,59 522.4,59.9 523,60.5 523.6,62.3 524.2,61.5 524.8,62.5 525.5,61 526.1,60.9 526.7,60.7 527.3,61.4 527.9,60.1 528.5,58 529.1,59 529.7,58.2 530.3,56.7 530.9,58.4 531.5,57.4 532.1,58.1 532.8,57.1 533.4,54.5 534,55.8 534.6,56.2 535.2,55.6 535.8,58.9 536.4,59 537.2,63.2 538,65.5 538.8,66 539.6,68.7 540.4,67.1 541.2,63.9 541.8,61.4 542.4,61 543,63.1 543.6,60.7 544.2,58.5 544.7,59.1 545.3,57.4 546.1,57.9 546.9,55 547.7,54.2" stroke="#2f8fcf" stroke-width="1.0" fill="none"/>
<polyline points="461.3,53.4 461.6,53.4 462.3,54 462.9,53.3 463.6,53.2 464.2,53.2 464.9,53.4 465.5,51.5 466.1,52 466.7,50.4 467.3,49.3 467.9,50.1 468.5,49.7 469.1,49.3 469.7,50.1 470.3,50.5 470.9,51.2 471.5,53.7 472.1,54.2 472.7,55.4 473.4,56.3 474,58.9 474.6,59 475.2,57.9 475.8,57.1 476.4,55.9 477,55.8 477.7,52.6 478.4,49.8 479.1,47.7 480.2,42 481,51 481.6,51.8 482.2,52.4 482.9,53.3 483.5,54.2 484.1,54.6 484.7,53 485.3,53.3 485.9,52.6 486.5,52.2 487.1,52.9 487.7,51.6 488.3,51 488.9,51.2 489.5,49 490.1,47.8 490.7,47.7 491.3,46.8 491.9,48.1 492.6,46.2 493.2,46.9 493.8,46.6 494.4,48.1 495,46.5 495.6,47.7 496.2,48.8 496.8,48.6 497.4,48.8 498,50.1 498.6,52.2 499.2,53 499.8,52.5 500.4,54.2 501,54.5 501.6,56.7 502.3,56.8 502.9,59 503.5,59 504.2,56.5 504.8,55.8 505.4,55.4 506,54.7 506.6,55.8 507.2,55.8 507.8,55.3 508.4,53.7 509.1,54.5 509.7,53.4 510.5,53.8 511.3,54.2 511.9,55.4 512.5,56 513.1,56.3 513.7,55.8 514.3,57.1 514.9,58.3 515.5,60.4 516.1,61.5 516.7,60.1 517.4,58.9 518,57.2 518.6,56.6 519.2,55.2 519.8,54.4 520.4,55.1 521,54.2 521.6,54.8 522.2,54.6 522.8,52.4 523.4,52.6 524,52.3 524.6,52.4 525.2,52.9 525.8,54.2 526.4,55.2 527,54.2 527.7,54.5 528.3,55 528.9,53.9 529.5,54.7 530.1,53.1 530.7,53.4 531.3,54.1 531.9,51.5 532.5,53.2 533.1,51.8 533.7,51.2 534.4,50.8 535,50.5 535.6,50.1 536.2,49.7 536.8,51.5 537.4,50.8 538,51 538.6,51.3 539.2,52.3 539.8,52 540.4,51.8 541,53.6 541.6,52.9 542.2,54.3 542.8,55.8 543.4,55.5 544,56.6 544.7,56.4 545.3,57.4 545.9,58.2 546.5,56.3 547.1,56.5 547.7,56.6" stroke="#f58a3a" stroke-width="1.0" fill="none"/>
<polyline points="461.3,43 461.6,42.9 462.4,41 463.2,39.6 463.8,40.3 464.3,42.3 464.9,42.9 465.5,43.5 466.1,44.8 466.7,44.3 467.3,45.3 467.9,47.9 468.5,49.8 469.1,50.5 469.7,52.6 470.2,54.6 470.8,55.5 471.4,54.7 471.9,56.5 472.4,58.2 473,58.2 473.6,58.6 474.2,61.1 474.8,60.8 475.4,62.3 476.2,60.6 477,57.4 477.8,53.5 478.6,50.1 479.4,50.8 480.2,49.3 480.8,50.8 481.4,50.3 482.1,50 482.7,51.8 483.3,51.7 483.9,51.1 484.4,50 485,50.1 485.6,50.5 486.2,48.7 486.9,48.4 487.5,47.7 488.1,46.4 488.8,47.1 489.4,46 490,45.3 490.8,47.3 491.6,51 492.2,52.5 492.8,51.3 493.4,51.3 494,52.6 494.6,52.5 495.2,51.2 495.8,51.5 496.4,50.1 497,49.7 497.6,49.8 498.2,50 498.8,49.3 499.4,49 500.1,46.1 500.7,44.8 501.3,44.5 501.9,44.7 502.5,44.1 503.1,45.8 503.7,45.3 504.2,43.3 504.8,42 505.6,42.9 506.4,44.5 507.2,43.1 508,43.7 508.6,44 509.1,45 509.7,46.1 510.5,47.1 511.3,49.3 512.1,50.7 512.9,53.4 513.7,50.8 514.5,49.3 515.1,49.4 515.7,47.6 516.3,48.1 516.9,47.7 517.5,46.4 518.1,43.3 518.8,43.6 519.4,41.2 520.2,44.3 521,46.1 521.8,47.5 522.6,50.1 523.2,48.8 523.8,48.7 524.4,50.4 525,49.3 525.7,48.4 526.3,49.9 527,50 527.6,50.3 528.3,50.1 528.9,49.8 529.6,49.7 530.2,49.5 530.9,50.1 531.5,49.3 532.1,48.1 532.8,48.3 533.4,48.7 534,48.5 534.6,48.5 535.2,49.2 535.8,48.8 536.4,49.3 537,50.4 537.6,48.6 538.2,50.3 538.8,49.3 539.4,47.7 540,49.3 540.6,47.1 541.2,47.7 541.8,46.4 542.4,45.9 543,46.3 543.6,44.5 544.2,43 544.9,43.3 545.5,43.3 546.1,42 546.9,40.8 547.7,39.6" stroke="#2caa3c" stroke-width="1.0" fill="none"/>
<polyline points="461.3,14 461.8,10.1 462.2,14 462.6,14 463.1,10.1 463.5,6.1 464,2.2 464.4,2.2 464.9,2.2 465.3,2.2 465.8,6.1 466.2,6.1 466.7,10.1 467.1,14 467.6,17.9 468,17.9 468.5,14 468.9,10.1 469.4,14 469.8,6.1 470.3,6.1 470.7,2.2 471.2,2.2 471.6,2.2 472.1,2.2 472.5,2.2 473,6.1 473.4,2.2 473.9,6.1 474.3,6.1 474.8,6.1 475.2,10.1 475.7,10.1 476.1,14 476.6,10.1 477,14 477.5,14 477.9,14 478.4,17.9 478.8,14 479.3,17.9 479.7,14 480.2,10.1 480.6,10.1 481.1,10.1 481.5,10.1 482,6.1 482.4,6.1 482.9,10.1 483.3,6.1 483.8,6.1 484.2,6.1 484.7,6.1 485.1,10.1 485.6,6.1 486,6.1 486.5,6.1 486.9,6.1 487.4,6.1 487.8,10.1 488.3,10.1 488.7,10.1 489.2,10.1 489.6,10.1 490.1,6.1 490.5,6.1 491,6.1 491.4,10.1 491.9,6.1 492.3,10.1 492.8,6.1 493.2,6.1 493.7,6.1 494.1,6.1 494.6,6.1 495,10.1 495.5,6.1 495.9,10.1 496.4,10.1 496.8,14 497.3,14 497.7,10.1 498.2,14 498.6,14 499.1,14 499.5,14 500,14 500.4,14 500.9,14 501.3,14 501.8,14 502.2,14 502.7,14 503.1,14 503.6,17.9 504,17.9 504.5,14 504.9,10.1 505.4,10.1 505.8,10.1 506.3,6.1 506.7,6.1 507.2,2.2 507.6,6.1 508.1,6.1 508.5,10.1 509,14 509.4,14 509.9,14 510.3,10.1 510.8,6.1 511.2,6.1 511.7,6.1 512.1,6.1 512.6,6.1 513,6.1 513.5,6.1 513.9,6.1 514.4,2.2 514.8,6.1 515.3,6.1 515.7,6.1 516.2,10.1 516.6,6.1 517.1,6.1 517.5,10.1 518,10.1 518.4,14 518.9,14 519.3,10.1 519.8,14 520.2,14 520.7,17.9 521.1,17.9 521.6,17.9 522,14 522.5,14 522.9,10.1 523.4,10.1 523.8,10.1 524.3,10.1 524.8,6.1 525.2,10.1 525.7,6.1 526.1,10.1 526.6,6.1 527,6.1 527.5,10.1 527.9,6.1 528.4,10.1 528.8,6.1 529.3,10.1 529.7,14 530.2,10.1 530.6,14 531.1,10.1 531.5,10.1 532,10.1 532.4,6.1 532.9,6.1 533.3,10.1 533.8,14 534.2,10.1 534.7,14 535.1,10.1 535.6,14 536,14 536.5,10.1 536.9,6.1 537.4,10.1 537.8,6.1 538.3,6.1 538.7,10.1 539.2,10.1 539.6,10.1 540.1,14 540.5,10.1 541,10.1 541.4,14 541.9,17.9 542.3,17.9 542.8,17.9 543.2,10.1 543.7,10.1 544.1,14 544.6,14 545,14 545.5,17.9 545.9,14 546.4,14 546.8,14 547.3,14" stroke="#f03a4a" stroke-width="0.9" fill="none"/>
<g fill="#14147a"><circle cx="467.3" cy="41.3" r="0.8"/><circle cx="472.6" cy="38.8" r="0.8"/><circle cx="477.8" cy="19.4" r="0.8"/><circle cx="483.5" cy="18.1" r="0.8"/><circle cx="488.8" cy="31.1" r="0.8"/><circle cx="494" cy="32.7" r="0.8"/><circle cx="499.2" cy="29.9" r="0.8"/><circle cx="504.5" cy="16.2" r="0.8"/><circle cx="510.1" cy="20.7" r="0.8"/><circle cx="515.3" cy="25.1" r="0.8"/><circle cx="520.7" cy="31.1" r="0.8"/><circle cx="525.8" cy="40.5" r="0.8"/><circle cx="531.5" cy="42.9" r="0.8"/><circle cx="536.4" cy="48" r="0.8"/><circle cx="542.4" cy="48" r="0.8"/><circle cx="462.5" cy="40.5" r="0.8"/></g>
<rect x="186.8" y="2" width="85.8" height="78.9" fill="none" stroke="#8c8c8c" stroke-width="0.5"/>
<rect x="461" y="1" width="87" height="79" fill="none" stroke="#8c8c8c" stroke-width="0.5"/>
<path d="M74.8 137.5L186.8 2M91.3 197.4L272.6 80.9" stroke="#cfcfcf" stroke-width="0.5" fill="none"/>
<path d="M349.5 101.6L461 1M366 194L548 80" stroke="#cfcfcf" stroke-width="0.5" fill="none"/>
<rect x="74.8" y="137.5" width="16.3" height="59.9" fill="#806040" fill-opacity="0.08" stroke="#a0a0a0" stroke-width="0.5"/>
<rect x="349.5" y="101.6" width="16.5" height="92.4" fill="#000" fill-opacity="0.08" stroke="#a0a0a0" stroke-width="0.5"/>
<rect x="88.9" y="7.9" width="39" height="32" rx="0.8" fill="#fff" fill-opacity="0.8" stroke="#e0e0e0" stroke-width="0.4"/>
<path d="M90.9 11.2H99.9" stroke="#6ec0d8" stroke-width="0.9"/>
<path d="M90.9 16.9H99.9" stroke="#f5b27a" stroke-width="0.9"/>
<path d="M90.9 23H99.9" stroke="#5cc58a" stroke-width="0.9"/>
<path d="M90.9 29.2H99.9" stroke="#ee5577" stroke-width="0.9"/>
<circle cx="95.4" cy="35.5" r="0.7" fill="#1a1a80"/>
<rect x="371.3" y="5.7" width="39" height="32" rx="0.8" fill="#fff" fill-opacity="0.8" stroke="#e0e0e0" stroke-width="0.4"/>
<path d="M372.9 9.9H383.1" stroke="#6ec0d8" stroke-width="0.9"/>
<path d="M372.9 16.1H383.1" stroke="#f5b27a" stroke-width="0.9"/>
<path d="M372.9 22.3H383.1" stroke="#5cc58a" stroke-width="0.9"/>
<path d="M372.9 28.3H383.1" stroke="#ee5577" stroke-width="0.9"/>
<circle cx="378" cy="34.6" r="0.7" fill="#1a1a80"/>
<g class="gt"><text transform="translate(26.8 108.2) scale(0.1)" text-anchor="end" class="t">120.0</text>
<text transform="translate(26.8 113.25) scale(0.1)" text-anchor="end" class="t">110.0</text>
<text transform="translate(26.8 118.3) scale(0.1)" text-anchor="end" class="t">100.0</text>
<text transform="translate(26.8 123.35) scale(0.1)" text-anchor="end" class="t">90.0</text>
<text transform="translate(26.8 128.4) scale(0.1)" text-anchor="end" class="t">80.0</text>
<text transform="translate(26.8 133.45) scale(0.1)" text-anchor="end" class="t">70.0</text>
<text transform="translate(26.8 138.5) scale(0.1)" text-anchor="end" class="t">60.0</text>
<text transform="translate(26.8 143.55) scale(0.1)" text-anchor="end" class="t">50.0</text>
<text transform="translate(26.8 148.6) scale(0.1)" text-anchor="end" class="t">40.0</text>
<text transform="translate(26.8 153.65) scale(0.1)" text-anchor="end" class="t">30.0</text>
<text transform="translate(26.8 158.7) scale(0.1)" text-anchor="end" class="t">20.0</text>
<text transform="translate(26.8 163.75) scale(0.1)" text-anchor="end" class="t">10.0</text>
<text transform="translate(26.8 168.8) scale(0.1)" text-anchor="end" class="t">0.0</text>
<text transform="translate(26.8 173.85) scale(0.1)" text-anchor="end" class="t">-10.0</text>
<text transform="translate(26.8 178.9) scale(0.1)" text-anchor="end" class="t">-20.0</text>
<text transform="translate(26.8 183.95) scale(0.1)" text-anchor="end" class="t">-30.0</text>
<text transform="translate(26.8 189) scale(0.1)" text-anchor="end" class="t">-40.0</text>
<text transform="translate(26.8 194.05) scale(0.1)" text-anchor="end" class="t">-50.0</text>
<text transform="translate(26.8 199.1) scale(0.1)" text-anchor="end" class="t">-60.0</text>
<text transform="translate(26.8 204.15) scale(0.1)" text-anchor="end" class="t">-70.0</text>
<text transform="translate(26.8 209.2) scale(0.1)" text-anchor="end" class="t">-80.0</text>
<text transform="translate(26.8 214.25) scale(0.1)" text-anchor="end" class="t">-90.0</text>
<text transform="translate(26.8 219.3) scale(0.1)" text-anchor="end" class="t">-100.0</text>
<text transform="translate(26.8 224.35) scale(0.1)" text-anchor="end" class="t">-110.0</text>
<text transform="translate(301.8 104.5) scale(0.1)" text-anchor="end" class="t">12.0</text>
<text transform="translate(301.8 113.84) scale(0.1)" text-anchor="end" class="t">10.0</text>
<text transform="translate(301.8 123.18) scale(0.1)" text-anchor="end" class="t">8.0</text>
<text transform="translate(301.8 132.52) scale(0.1)" text-anchor="end" class="t">6.0</text>
<text transform="translate(301.8 141.86) scale(0.1)" text-anchor="end" class="t">4.0</text>
<text transform="translate(301.8 151.2) scale(0.1)" text-anchor="end" class="t">2.0</text>
<text transform="translate(301.8 160.54) scale(0.1)" text-anchor="end" class="t">0.0</text>
<text transform="translate(301.8 169.88) scale(0.1)" text-anchor="end" class="t">-2.0</text>
<text transform="translate(301.8 179.22) scale(0.1)" text-anchor="end" class="t">-4.0</text>
<text transform="translate(301.8 188.56) scale(0.1)" text-anchor="end" class="t">-6.0</text>
<text transform="translate(301.8 197.9) scale(0.1)" text-anchor="end" class="t">-8.0</text>
<text transform="translate(301.8 207.24) scale(0.1)" text-anchor="end" class="t">-10.0</text>
<text transform="translate(301.8 216.58) scale(0.1)" text-anchor="end" class="t">-12.0</text>
<text transform="translate(27.9 227.17) rotate(-45) scale(0.1)" text-anchor="end" class="t">2017-09-02 00:00</text>
<text transform="translate(36.34 227.17) rotate(-45) scale(0.1)" text-anchor="end" class="t">2017-09-03 00:00</text>
<text transform="translate(44.78 227.17) rotate(-45) scale(0.1)" text-anchor="end" class="t">2017-09-04 00:00</text>
<text transform="translate(53.22 227.17) rotate(-45) scale(0.1)" text-anchor="end" class="t">2017-09-05 00:00</text>
<text transform="translate(61.66 227.17) rotate(-45) scale(0.1)" text-anchor="end" class="t">2017-09-06 00:00</text>
<text transform="translate(70.1 227.17) rotate(-45) scale(0.1)" text-anchor="end" class="t">2017-09-07 00:00</text>
<text transform="translate(78.54 227.17) rotate(-45) scale(0.1)" text-anchor="end" class="t">2017-09-08 00:00</text>
<text transform="translate(86.98 227.17) rotate(-45) scale(0.1)" text-anchor="end" class="t">2017-09-09 00:00</text>
<text transform="translate(95.42 227.17) rotate(-45) scale(0.1)" text-anchor="end" class="t">2017-09-10 00:00</text>
<text transform="translate(103.86 227.17) rotate(-45) scale(0.1)" text-anchor="end" class="t">2017-09-11 00:00</text>
<text transform="translate(112.3 227.17) rotate(-45) scale(0.1)" text-anchor="end" class="t">2017-09-12 00:00</text>
<text transform="translate(120.74 227.17) rotate(-45) scale(0.1)" text-anchor="end" class="t">2017-09-13 00:00</text>
<text transform="translate(129.18 227.17) rotate(-45) scale(0.1)" text-anchor="end" class="t">2017-09-14 00:00</text>
<text transform="translate(137.62 227.17) rotate(-45) scale(0.1)" text-anchor="end" class="t">2017-09-15 00:00</text>
<text transform="translate(146.06 227.17) rotate(-45) scale(0.1)" text-anchor="end" class="t">2017-09-16 00:00</text>
<text transform="translate(154.5 227.17) rotate(-45) scale(0.1)" text-anchor="end" class="t">2017-09-17 00:00</text>
<text transform="translate(162.94 227.17) rotate(-45) scale(0.1)" text-anchor="end" class="t">2017-09-18 00:00</text>
<text transform="translate(171.38 227.17) rotate(-45) scale(0.1)" text-anchor="end" class="t">2017-09-19 00:00</text>
<text transform="translate(179.82 227.17) rotate(-45) scale(0.1)" text-anchor="end" class="t">2017-09-20 00:00</text>
<text transform="translate(188.26 227.17) rotate(-45) scale(0.1)" text-anchor="end" class="t">2017-09-21 00:00</text>
<text transform="translate(196.7 227.17) rotate(-45) scale(0.1)" text-anchor="end" class="t">2017-09-22 00:00</text>
<text transform="translate(205.14 227.17) rotate(-45) scale(0.1)" text-anchor="end" class="t">2017-09-23 00:00</text>
<text transform="translate(213.58 227.17) rotate(-45) scale(0.1)" text-anchor="end" class="t">2017-09-24 00:00</text>
<text transform="translate(222.02 227.17) rotate(-45) scale(0.1)" text-anchor="end" class="t">2017-09-25 00:00</text>
<text transform="translate(230.46 227.17) rotate(-45) scale(0.1)" text-anchor="end" class="t">2017-09-26 00:00</text>
<text transform="translate(238.9 227.17) rotate(-45) scale(0.1)" text-anchor="end" class="t">2017-09-27 00:00</text>
<text transform="translate(247.34 227.17) rotate(-45) scale(0.1)" text-anchor="end" class="t">2017-09-28 00:00</text>
<text transform="translate(255.78 227.17) rotate(-45) scale(0.1)" text-anchor="end" class="t">2017-09-29 00:00</text>
<text transform="translate(264.22 227.17) rotate(-45) scale(0.1)" text-anchor="end" class="t">2017-09-30 00:00</text>
<text transform="translate(302.9 226.07) rotate(-45) scale(0.1)" text-anchor="end" class="t">2017-09-02 00:00</text>
<text transform="translate(311.34 226.07) rotate(-45) scale(0.1)" text-anchor="end" class="t">2017-09-03 00:00</text>
<text transform="translate(319.78 226.07) rotate(-45) scale(0.1)" text-anchor="end" class="t">2017-09-04 00:00</text>
<text transform="translate(328.22 226.07) rotate(-45) scale(0.1)" text-anchor="end" class="t">2017-09-05 00:00</text>
<text transform="translate(336.66 226.07) rotate(-45) scale(0.1)" text-anchor="end" class="t">2017-09-06 00:00</text>
<text transform="translate(345.1 226.07) rotate(-45) scale(0.1)" text-anchor="end" class="t">2017-09-07 00:00</text>
<text transform="translate(353.54 226.07) rotate(-45) scale(0.1)" text-anchor="end" class="t">2017-09-08 00:00</text>
<text transform="translate(361.98 226.07) rotate(-45) scale(0.1)" text-anchor="end" class="t">2017-09-09 00:00</text>
<text transform="translate(370.42 226.07) rotate(-45) scale(0.1)" text-anchor="end" class="t">2017-09-10 00:00</text>
<text transform="translate(378.86 226.07) rotate(-45) scale(0.1)" text-anchor="end" class="t">2017-09-11 00:00</text>
<text transform="translate(387.3 226.07) rotate(-45) scale(0.1)" text-anchor="end" class="t">2017-09-12 00:00</text>
<text transform="translate(395.74 226.07) rotate(-45) scale(0.1)" text-anchor="end" class="t">2017-09-13 00:00</text>
<text transform="translate(404.18 226.07) rotate(-45) scale(0.1)" text-anchor="end" class="t">2017-09-14 00:00</text>
<text transform="translate(412.62 226.07) rotate(-45) scale(0.1)" text-anchor="end" class="t">2017-09-15 00:00</text>
<text transform="translate(421.06 226.07) rotate(-45) scale(0.1)" text-anchor="end" class="t">2017-09-16 00:00</text>
<text transform="translate(429.5 226.07) rotate(-45) scale(0.1)" text-anchor="end" class="t">2017-09-17 00:00</text>
<text transform="translate(437.94 226.07) rotate(-45) scale(0.1)" text-anchor="end" class="t">2017-09-18 00:00</text>
<text transform="translate(446.38 226.07) rotate(-45) scale(0.1)" text-anchor="end" class="t">2017-09-19 00:00</text>
<text transform="translate(454.82 226.07) rotate(-45) scale(0.1)" text-anchor="end" class="t">2017-09-20 00:00</text>
<text transform="translate(463.26 226.07) rotate(-45) scale(0.1)" text-anchor="end" class="t">2017-09-21 00:00</text>
<text transform="translate(471.7 226.07) rotate(-45) scale(0.1)" text-anchor="end" class="t">2017-09-22 00:00</text>
<text transform="translate(480.14 226.07) rotate(-45) scale(0.1)" text-anchor="end" class="t">2017-09-23 00:00</text>
<text transform="translate(488.58 226.07) rotate(-45) scale(0.1)" text-anchor="end" class="t">2017-09-24 00:00</text>
<text transform="translate(497.02 226.07) rotate(-45) scale(0.1)" text-anchor="end" class="t">2017-09-25 00:00</text>
<text transform="translate(505.46 226.07) rotate(-45) scale(0.1)" text-anchor="end" class="t">2017-09-26 00:00</text>
<text transform="translate(513.9 226.07) rotate(-45) scale(0.1)" text-anchor="end" class="t">2017-09-27 00:00</text>
<text transform="translate(522.34 226.07) rotate(-45) scale(0.1)" text-anchor="end" class="t">2017-09-28 00:00</text>
<text transform="translate(530.78 226.07) rotate(-45) scale(0.1)" text-anchor="end" class="t">2017-09-29 00:00</text>
<text transform="translate(539.22 226.07) rotate(-45) scale(0.1)" text-anchor="end" class="t">2017-09-30 00:00</text>
<text transform="translate(185.4 3.9) scale(0.1)" text-anchor="end" class="t">60</text>
<text transform="translate(185.4 10.44) scale(0.1)" text-anchor="end" class="t">50</text>
<text transform="translate(185.4 16.98) scale(0.1)" text-anchor="end" class="t">40</text>
<text transform="translate(185.4 23.52) scale(0.1)" text-anchor="end" class="t">30</text>
<text transform="translate(185.4 30.06) scale(0.1)" text-anchor="end" class="t">20</text>
<text transform="translate(185.4 36.6) scale(0.1)" text-anchor="end" class="t">10</text>
<text transform="translate(185.4 43.14) scale(0.1)" text-anchor="end" class="t">0</text>
<text transform="translate(185.4 49.68) scale(0.1)" text-anchor="end" class="t">-10</text>
<text transform="translate(185.4 56.22) scale(0.1)" text-anchor="end" class="t">-20</text>
<text transform="translate(185.4 62.76) scale(0.1)" text-anchor="end" class="t">-30</text>
<text transform="translate(185.4 69.3) scale(0.1)" text-anchor="end" class="t">-40</text>
<text transform="translate(185.4 75.84) scale(0.1)" text-anchor="end" class="t">-50</text>
<text transform="translate(185.4 82.38) scale(0.1)" text-anchor="end" class="t">-60</text>
<text transform="translate(459.6 3.8) scale(0.1)" text-anchor="end" class="t">12</text>
<text transform="translate(459.6 11.66) scale(0.1)" text-anchor="end" class="t">10</text>
<text transform="translate(459.6 19.52) scale(0.1)" text-anchor="end" class="t">8</text>
<text transform="translate(459.6 27.38) scale(0.1)" text-anchor="end" class="t">6</text>
<text transform="translate(459.6 35.24) scale(0.1)" text-anchor="end" class="t">4</text>
<text transform="translate(459.6 43.1) scale(0.1)" text-anchor="end" class="t">2</text>
<text transform="translate(459.6 50.96) scale(0.1)" text-anchor="end" class="t">0</text>
<text transform="translate(459.6 58.82) scale(0.1)" text-anchor="end" class="t">-2</text>
<text transform="translate(459.6 66.68) scale(0.1)" text-anchor="end" class="t">-4</text>
<text transform="translate(459.6 74.54) scale(0.1)" text-anchor="end" class="t">-6</text>
<text transform="translate(186.5 84.77) rotate(-45) scale(0.1)" text-anchor="end" class="t">2017-09-07 12:00</text>
<text transform="translate(193.65 84.77) rotate(-45) scale(0.1)" text-anchor="end" class="t">2017-09-07 16:00</text>
<text transform="translate(200.8 84.77) rotate(-45) scale(0.1)" text-anchor="end" class="t">2017-09-07 20:00</text>
<text transform="translate(207.95 84.77) rotate(-45) scale(0.1)" text-anchor="end" class="t">2017-09-08 00:00</text>
<text transform="translate(215.1 84.77) rotate(-45) scale(0.1)" text-anchor="end" class="t">2017-09-08 04:00</text>
<text transform="translate(222.25 84.77) rotate(-45) scale(0.1)" text-anchor="end" class="t">2017-09-08 08:00</text>
<text transform="translate(229.4 84.77) rotate(-45) scale(0.1)" text-anchor="end" class="t">2017-09-08 12:00</text>
<text transform="translate(236.55 84.77) rotate(-45) scale(0.1)" text-anchor="end" class="t">2017-09-08 16:00</text>
<text transform="translate(243.7 84.77) rotate(-45) scale(0.1)" text-anchor="end" class="t">2017-09-08 20:00</text>
<text transform="translate(250.85 84.77) rotate(-45) scale(0.1)" text-anchor="end" class="t">2017-09-09 00:00</text>
<text transform="translate(258 84.77) rotate(-45) scale(0.1)" text-anchor="end" class="t">2017-09-09 04:00</text>
<text transform="translate(265.15 84.77) rotate(-45) scale(0.1)" text-anchor="end" class="t">2017-09-09 08:00</text>
<text transform="translate(272.3 84.77) rotate(-45) scale(0.1)" text-anchor="end" class="t">2017-09-09 12:00</text>
<text transform="translate(460.7 83.87) rotate(-45) scale(0.1)" text-anchor="end" class="t">2017-09-07 12:00</text>
<text transform="translate(467.95 83.87) rotate(-45) scale(0.1)" text-anchor="end" class="t">2017-09-07 16:00</text>
<text transform="translate(475.2 83.87) rotate(-45) scale(0.1)" text-anchor="end" class="t">2017-09-07 20:00</text>
<text transform="translate(482.45 83.87) rotate(-45) scale(0.1)" text-anchor="end" class="t">2017-09-08 00:00</text>
<text transform="translate(489.7 83.87) rotate(-45) scale(0.1)" text-anchor="end" class="t">2017-09-08 04:00</text>
<text transform="translate(496.95 83.87) rotate(-45) scale(0.1)" text-anchor="end" class="t">2017-09-08 08:00</text>
<text transform="translate(504.2 83.87) rotate(-45) scale(0.1)" text-anchor="end" class="t">2017-09-08 12:00</text>
<text transform="translate(511.45 83.87) rotate(-45) scale(0.1)" text-anchor="end" class="t">2017-09-08 16:00</text>
<text transform="translate(518.7 83.87) rotate(-45) scale(0.1)" text-anchor="end" class="t">2017-09-08 20:00</text>
<text transform="translate(525.95 83.87) rotate(-45) scale(0.1)" text-anchor="end" class="t">2017-09-09 00:00</text>
<text transform="translate(533.2 83.87) rotate(-45) scale(0.1)" text-anchor="end" class="t">2017-09-09 04:00</text>
<text transform="translate(540.45 83.87) rotate(-45) scale(0.1)" text-anchor="end" class="t">2017-09-09 08:00</text>
<text transform="translate(547.7 83.87) rotate(-45) scale(0.1)" text-anchor="end" class="t">2017-09-09 12:00</text>
<text transform="translate(103 12.8) scale(0.1)" class="t">OFF delta X</text>
<text transform="translate(103 18.5) scale(0.1)" class="t">OFF delta Y</text>
<text transform="translate(103 24.6) scale(0.1)" class="t">OFF delta Z</text>
<text transform="translate(103 30.8) scale(0.1)" class="t">ns</text>
<text transform="translate(103 37.1) scale(0.1)" class="t">Kp index</text>
<text transform="translate(385.2 11.5) scale(0.1)" class="t">OFF delta X</text>
<text transform="translate(385.2 17.7) scale(0.1)" class="t">OFF delta Y</text>
<text transform="translate(385.2 23.9) scale(0.1)" class="t">OFF delta Z</text>
<text transform="translate(385.2 29.9) scale(0.1)" class="t">ns</text>
<text transform="translate(385.2 36.2) scale(0.1)" class="t">Kp index</text>
<text transform="translate(7.6 162.8) rotate(-90) scale(0.1)" text-anchor="middle" class="t">Total Glonass position error [m]</text>
<text transform="translate(13 162.3) rotate(-90) scale(0.1)" text-anchor="middle" class="t">Kp index</text>
<text transform="translate(284.4 161.9) rotate(-90) scale(0.1)" text-anchor="middle" class="t">Total GPS position error [m]</text>
<text transform="translate(289.8 161.4) rotate(-90) scale(0.1)" text-anchor="middle" class="t">Kp index</text>
<text transform="translate(150.3 256.1) scale(0.1)" text-anchor="middle" class="t">Time period 2017-09</text>
<text transform="translate(425.5 255.5) scale(0.1)" text-anchor="middle" class="t">Time period 2017-09</text></g>
</svg>
</body></html>
